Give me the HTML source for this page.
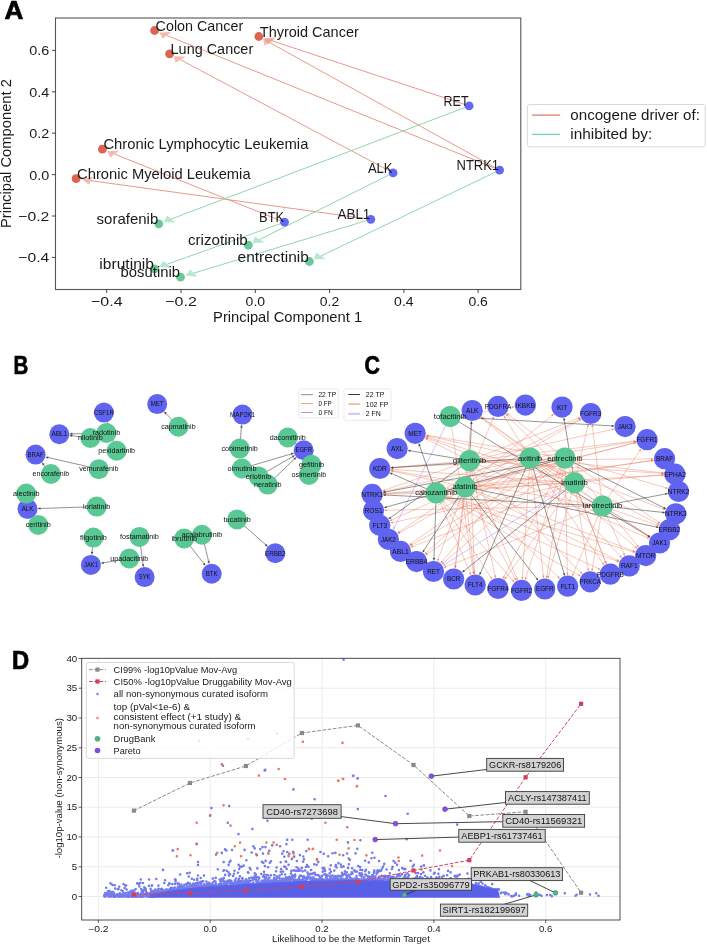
<!DOCTYPE html>
<html><head><meta charset="utf-8"><title>figure</title>
<style>
html,body{margin:0;padding:0;background:#fff;}
body{width:707px;height:945px;overflow:hidden;}
svg{display:block;font-family:"Liberation Sans",sans-serif;will-change:transform;filter:blur(0.35px);}
</style></head><body>
<svg width="707" height="945" viewBox="0 0 707 945">
<rect width="707" height="945" fill="#fff"/>
<text x="4.6" y="18.7" font-size="25.00" font-weight="bold" fill="#000" textLength="18.9" lengthAdjust="spacingAndGlyphs" stroke="#000" stroke-width="0.7">A</text>
<rect x="55.5" y="18.0" width="465.3" height="271.5" fill="none" stroke="#555" stroke-width="1.1"/>
<line x1="106.7" y1="289.5" x2="106.7" y2="293.0" stroke="#333" stroke-width="0.90"/>
<text x="91.0" y="306.0" font-size="13.30" fill="#1a1a1a" textLength="31.5" lengthAdjust="spacingAndGlyphs">−0.4</text>
<line x1="181.0" y1="289.5" x2="181.0" y2="293.0" stroke="#333" stroke-width="0.90"/>
<text x="165.3" y="306.0" font-size="13.30" fill="#1a1a1a" textLength="31.5" lengthAdjust="spacingAndGlyphs">−0.2</text>
<line x1="255.3" y1="289.5" x2="255.3" y2="293.0" stroke="#333" stroke-width="0.90"/>
<text x="245.6" y="306.0" font-size="13.30" fill="#1a1a1a" textLength="19.5" lengthAdjust="spacingAndGlyphs">0.0</text>
<line x1="329.6" y1="289.5" x2="329.6" y2="293.0" stroke="#333" stroke-width="0.90"/>
<text x="319.8" y="306.0" font-size="13.30" fill="#1a1a1a" textLength="19.5" lengthAdjust="spacingAndGlyphs">0.2</text>
<line x1="403.9" y1="289.5" x2="403.9" y2="293.0" stroke="#333" stroke-width="0.90"/>
<text x="394.1" y="306.0" font-size="13.30" fill="#1a1a1a" textLength="19.5" lengthAdjust="spacingAndGlyphs">0.4</text>
<line x1="478.1" y1="289.5" x2="478.1" y2="293.0" stroke="#333" stroke-width="0.90"/>
<text x="468.4" y="306.0" font-size="13.30" fill="#1a1a1a" textLength="19.5" lengthAdjust="spacingAndGlyphs">0.6</text>
<line x1="52.0" y1="50.4" x2="55.5" y2="50.4" stroke="#333" stroke-width="0.90"/>
<text x="29.3" y="55.4" font-size="13.30" fill="#1a1a1a" textLength="20.0" lengthAdjust="spacingAndGlyphs">0.6</text>
<line x1="52.0" y1="91.8" x2="55.5" y2="91.8" stroke="#333" stroke-width="0.90"/>
<text x="29.3" y="96.8" font-size="13.30" fill="#1a1a1a" textLength="20.0" lengthAdjust="spacingAndGlyphs">0.4</text>
<line x1="52.0" y1="133.2" x2="55.5" y2="133.2" stroke="#333" stroke-width="0.90"/>
<text x="29.3" y="138.2" font-size="13.30" fill="#1a1a1a" textLength="20.0" lengthAdjust="spacingAndGlyphs">0.2</text>
<line x1="52.0" y1="174.6" x2="55.5" y2="174.6" stroke="#333" stroke-width="0.90"/>
<text x="29.3" y="179.6" font-size="13.30" fill="#1a1a1a" textLength="20.0" lengthAdjust="spacingAndGlyphs">0.0</text>
<line x1="52.0" y1="216.0" x2="55.5" y2="216.0" stroke="#333" stroke-width="0.90"/>
<text x="18.3" y="221.0" font-size="13.30" fill="#1a1a1a" textLength="31.0" lengthAdjust="spacingAndGlyphs">−0.2</text>
<line x1="52.0" y1="257.4" x2="55.5" y2="257.4" stroke="#333" stroke-width="0.90"/>
<text x="18.3" y="262.4" font-size="13.30" fill="#1a1a1a" textLength="31.0" lengthAdjust="spacingAndGlyphs">−0.4</text>
<text x="213.1" y="321.9" font-size="13.90" fill="#1a1a1a" textLength="149.0" lengthAdjust="spacingAndGlyphs">Principal Component 1</text>
<text transform="translate(11.2,153.6) rotate(-90)" x="-74.5" y="0" font-size="13.9" fill="#1a1a1a" textLength="149" lengthAdjust="spacingAndGlyphs">Principal Component 2</text>
<line x1="499.6" y1="170.1" x2="166.9" y2="35.5" stroke="#e69a8a" stroke-width="1.00"/>
<polygon points="159.4,32.4 171.3,32.1 162.6,38.8" fill="rgba(232,148,132,0.62)"/>
<line x1="469.1" y1="105.9" x2="271.9" y2="40.8" stroke="#e69a8a" stroke-width="1.00"/>
<polygon points="263.9,38.2 275.7,37.3 268.1,44.4" fill="rgba(232,148,132,0.62)"/>
<line x1="499.6" y1="170.1" x2="269.6" y2="42.5" stroke="#e69a8a" stroke-width="1.00"/>
<polygon points="263.0,38.8 274.8,39.6 264.4,45.4" fill="rgba(232,148,132,0.62)"/>
<line x1="393.1" y1="172.9" x2="180.6" y2="59.8" stroke="#e69a8a" stroke-width="1.00"/>
<polygon points="173.9,56.2 185.7,56.8 175.5,62.8" fill="rgba(232,148,132,0.62)"/>
<line x1="284.5" y1="222.2" x2="114.8" y2="154.2" stroke="#e69a8a" stroke-width="1.00"/>
<polygon points="107.2,151.1 119.1,150.8 110.4,157.5" fill="rgba(232,148,132,0.62)"/>
<line x1="370.8" y1="219.3" x2="90.9" y2="180.7" stroke="#e69a8a" stroke-width="1.00"/>
<polygon points="81.9,179.5 92.7,176.7 89.1,184.8" fill="rgba(232,148,132,0.62)"/>
<line x1="469.1" y1="105.9" x2="171.4" y2="219.0" stroke="#8fd6b2" stroke-width="1.00"/>
<polygon points="163.7,221.9 167.2,215.6 175.6,222.4" fill="rgba(140,214,178,0.62)"/>
<line x1="393.1" y1="172.9" x2="259.6" y2="239.5" stroke="#8fd6b2" stroke-width="1.00"/>
<polygon points="252.7,243.0 254.7,236.5 264.6,242.6" fill="rgba(140,214,178,0.62)"/>
<line x1="499.6" y1="170.1" x2="320.9" y2="256.0" stroke="#8fd6b2" stroke-width="1.00"/>
<polygon points="313.9,259.3 316.1,252.8 325.8,259.1" fill="rgba(140,214,178,0.62)"/>
<line x1="370.8" y1="219.3" x2="193.9" y2="273.1" stroke="#8fd6b2" stroke-width="1.00"/>
<polygon points="185.7,275.6 190.3,269.5 197.4,276.8" fill="rgba(140,214,178,0.62)"/>
<line x1="284.5" y1="222.2" x2="167.3" y2="264.2" stroke="#8fd6b2" stroke-width="1.00"/>
<polygon points="159.5,267.0 163.3,260.7 171.3,267.7" fill="rgba(140,214,178,0.62)"/>
<circle cx="154.6" cy="30.5" r="4.4" fill="#dc6450"/>
<circle cx="258.8" cy="36.5" r="4.4" fill="#dc6450"/>
<circle cx="169.6" cy="53.9" r="4.4" fill="#dc6450"/>
<circle cx="102.4" cy="149.2" r="4.4" fill="#dc6450"/>
<circle cx="76.1" cy="178.7" r="4.4" fill="#dc6450"/>
<circle cx="469.1" cy="105.9" r="4.4" fill="#6268f2"/>
<circle cx="393.1" cy="172.9" r="4.4" fill="#6268f2"/>
<circle cx="499.6" cy="170.1" r="4.4" fill="#6268f2"/>
<circle cx="370.8" cy="219.3" r="4.4" fill="#6268f2"/>
<circle cx="284.5" cy="222.2" r="4.4" fill="#6268f2"/>
<circle cx="158.8" cy="223.8" r="4.4" fill="#69ca97"/>
<circle cx="248.3" cy="245.2" r="4.4" fill="#69ca97"/>
<circle cx="154.5" cy="268.8" r="4.4" fill="#69ca97"/>
<circle cx="180.5" cy="277.2" r="4.4" fill="#69ca97"/>
<circle cx="309.4" cy="261.5" r="4.4" fill="#69ca97"/>
<text x="155.6" y="30.5" font-size="13.90" fill="#1a1a1a" textLength="87.6" lengthAdjust="spacingAndGlyphs">Colon Cancer</text>
<text x="259.8" y="36.5" font-size="13.90" fill="#1a1a1a" textLength="99.0" lengthAdjust="spacingAndGlyphs">Thyroid Cancer</text>
<text x="170.6" y="53.9" font-size="13.90" fill="#1a1a1a" textLength="82.6" lengthAdjust="spacingAndGlyphs">Lung Cancer</text>
<text x="103.4" y="149.2" font-size="13.90" fill="#1a1a1a" textLength="205.0" lengthAdjust="spacingAndGlyphs">Chronic Lymphocytic Leukemia</text>
<text x="77.1" y="178.7" font-size="13.90" fill="#1a1a1a" textLength="173.5" lengthAdjust="spacingAndGlyphs">Chronic Myeloid Leukemia</text>
<text x="443.6" y="105.9" font-size="13.90" fill="#1a1a1a" textLength="25.0" lengthAdjust="spacingAndGlyphs">RET</text>
<text x="367.9" y="172.9" font-size="13.90" fill="#1a1a1a" textLength="24.7" lengthAdjust="spacingAndGlyphs">ALK</text>
<text x="456.5" y="170.1" font-size="13.90" fill="#1a1a1a" textLength="42.6" lengthAdjust="spacingAndGlyphs">NTRK1</text>
<text x="337.5" y="219.3" font-size="13.90" fill="#1a1a1a" textLength="32.8" lengthAdjust="spacingAndGlyphs">ABL1</text>
<text x="259.1" y="222.2" font-size="13.90" fill="#1a1a1a" textLength="24.9" lengthAdjust="spacingAndGlyphs">BTK</text>
<text x="96.6" y="223.8" font-size="13.90" fill="#1a1a1a" textLength="61.7" lengthAdjust="spacingAndGlyphs">sorafenib</text>
<text x="187.9" y="245.2" font-size="13.90" fill="#1a1a1a" textLength="59.9" lengthAdjust="spacingAndGlyphs">crizotinib</text>
<text x="99.3" y="268.8" font-size="13.90" fill="#1a1a1a" textLength="54.7" lengthAdjust="spacingAndGlyphs">ibrutinib</text>
<text x="120.6" y="277.2" font-size="13.90" fill="#1a1a1a" textLength="59.4" lengthAdjust="spacingAndGlyphs">bosutinib</text>
<text x="237.6" y="261.5" font-size="13.90" fill="#1a1a1a" textLength="71.3" lengthAdjust="spacingAndGlyphs">entrectinib</text>
<rect x="527.4" y="104.5" width="177.8" height="42.4" rx="2.5" fill="#fff" stroke="#d8d8d8" stroke-width="1"/>
<line x1="531.9" y1="115.1" x2="560.2" y2="115.1" stroke="#e08a72" stroke-width="1.40"/>
<line x1="531.9" y1="134.4" x2="560.2" y2="134.4" stroke="#7fd3a8" stroke-width="1.40"/>
<text x="570.3" y="119.6" font-size="13.90" fill="#1a1a1a" textLength="129.6" lengthAdjust="spacingAndGlyphs">oncogene driver of:</text>
<text x="570.3" y="138.9" font-size="13.90" fill="#1a1a1a" textLength="82.0" lengthAdjust="spacingAndGlyphs">inhibited by:</text>
<text x="13.5" y="373.7" font-size="25.00" font-weight="bold" fill="#000" textLength="14.8" lengthAdjust="spacingAndGlyphs" stroke="#000" stroke-width="0.7">B</text>
<line x1="106.4" y1="432.9" x2="71.8" y2="433.9" stroke="#4a4a4a" stroke-width="0.60"/>
<polygon points="69.3,433.9 72.3,432.6 72.3,435.0" fill="#4a4a4a"/>
<line x1="90.4" y1="438.0" x2="71.7" y2="435.7" stroke="#4a4a4a" stroke-width="0.60"/>
<polygon points="69.2,435.4 72.3,434.6 72.1,437.0" fill="#4a4a4a"/>
<line x1="116.6" y1="450.7" x2="107.9" y2="424.5" stroke="#4a4a4a" stroke-width="0.60"/>
<polygon points="107.1,422.1 109.1,424.6 106.9,425.3" fill="#4a4a4a"/>
<line x1="98.8" y1="469.2" x2="47.8" y2="457.4" stroke="#4a4a4a" stroke-width="0.60"/>
<polygon points="45.3,456.9 48.5,456.4 48.0,458.7" fill="#4a4a4a"/>
<line x1="50.9" y1="474.0" x2="43.3" y2="464.4" stroke="#4a4a4a" stroke-width="0.60"/>
<polygon points="41.8,462.5 44.6,464.1 42.7,465.6" fill="#4a4a4a"/>
<line x1="178.4" y1="426.7" x2="165.8" y2="413.2" stroke="#4a4a4a" stroke-width="0.60"/>
<polygon points="164.0,411.4 167.0,412.8 165.2,414.4" fill="#4a4a4a"/>
<line x1="239.6" y1="448.6" x2="241.4" y2="427.1" stroke="#4a4a4a" stroke-width="0.60"/>
<polygon points="241.7,424.6 242.6,427.7 240.2,427.5" fill="#4a4a4a"/>
<line x1="242.0" y1="468.5" x2="291.7" y2="453.8" stroke="#4a4a4a" stroke-width="0.60"/>
<polygon points="294.1,453.0 291.6,455.0 290.9,452.7" fill="#4a4a4a"/>
<line x1="258.5" y1="476.4" x2="292.9" y2="456.5" stroke="#4a4a4a" stroke-width="0.60"/>
<polygon points="295.0,455.2 293.1,457.8 291.9,455.7" fill="#4a4a4a"/>
<line x1="267.7" y1="484.6" x2="294.7" y2="458.8" stroke="#4a4a4a" stroke-width="0.60"/>
<polygon points="296.5,457.1 295.1,460.0 293.5,458.3" fill="#4a4a4a"/>
<line x1="287.8" y1="437.5" x2="293.9" y2="442.4" stroke="#4a4a4a" stroke-width="0.60"/>
<polygon points="295.9,444.0 292.8,443.0 294.3,441.1" fill="#4a4a4a"/>
<line x1="311.5" y1="464.7" x2="309.6" y2="461.2" stroke="#4a4a4a" stroke-width="0.60"/>
<polygon points="308.4,459.0 310.9,461.1 308.8,462.2" fill="#4a4a4a"/>
<line x1="308.9" y1="474.9" x2="306.3" y2="462.4" stroke="#4a4a4a" stroke-width="0.60"/>
<polygon points="305.8,460.0 307.6,462.7 305.2,463.2" fill="#4a4a4a"/>
<line x1="26.2" y1="493.6" x2="26.4" y2="496.4" stroke="#4a4a4a" stroke-width="0.60"/>
<polygon points="26.7,498.9 25.2,496.0 27.6,495.8" fill="#4a4a4a"/>
<line x1="38.2" y1="524.9" x2="34.4" y2="519.3" stroke="#4a4a4a" stroke-width="0.60"/>
<polygon points="33.1,517.2 35.7,519.0 33.7,520.4" fill="#4a4a4a"/>
<line x1="96.7" y1="506.6" x2="40.0" y2="508.5" stroke="#4a4a4a" stroke-width="0.60"/>
<polygon points="37.5,508.6 40.5,507.3 40.5,509.7" fill="#4a4a4a"/>
<line x1="93.4" y1="537.6" x2="92.0" y2="552.5" stroke="#4a4a4a" stroke-width="0.60"/>
<polygon points="91.8,554.9 90.9,551.8 93.3,552.1" fill="#4a4a4a"/>
<line x1="129.3" y1="558.5" x2="103.2" y2="562.8" stroke="#4a4a4a" stroke-width="0.60"/>
<polygon points="100.8,563.3 103.5,561.6 103.9,563.9" fill="#4a4a4a"/>
<line x1="139.5" y1="536.9" x2="143.0" y2="564.7" stroke="#4a4a4a" stroke-width="0.60"/>
<polygon points="143.3,567.2 141.8,564.4 144.2,564.1" fill="#4a4a4a"/>
<line x1="184.2" y1="538.5" x2="204.0" y2="563.8" stroke="#4a4a4a" stroke-width="0.60"/>
<polygon points="205.5,565.8 202.8,564.2 204.6,562.7" fill="#4a4a4a"/>
<line x1="202.0" y1="534.7" x2="208.7" y2="561.6" stroke="#4a4a4a" stroke-width="0.60"/>
<polygon points="209.3,564.0 207.4,561.4 209.7,560.8" fill="#4a4a4a"/>
<line x1="237.1" y1="519.4" x2="266.0" y2="545.0" stroke="#4a4a4a" stroke-width="0.60"/>
<polygon points="267.8,546.7 264.8,545.6 266.4,543.8" fill="#4a4a4a"/>
<circle cx="103.9" cy="412.6" r="10.0" fill="#6063f0"/>
<circle cx="157.2" cy="404.1" r="10.0" fill="#6063f0"/>
<circle cx="59.3" cy="434.2" r="10.0" fill="#6063f0"/>
<circle cx="35.6" cy="454.6" r="10.0" fill="#6063f0"/>
<circle cx="27.5" cy="508.9" r="10.0" fill="#6063f0"/>
<circle cx="90.9" cy="564.9" r="10.0" fill="#6063f0"/>
<circle cx="144.6" cy="577.1" r="10.0" fill="#6063f0"/>
<circle cx="242.5" cy="414.6" r="10.0" fill="#6063f0"/>
<circle cx="303.7" cy="450.2" r="10.0" fill="#6063f0"/>
<circle cx="211.7" cy="573.7" r="10.0" fill="#6063f0"/>
<circle cx="275.3" cy="553.3" r="10.0" fill="#6063f0"/>
<circle cx="178.4" cy="426.7" r="10.0" fill="#5ac894"/>
<circle cx="106.4" cy="432.9" r="10.0" fill="#5ac894"/>
<circle cx="90.4" cy="438.0" r="10.0" fill="#5ac894"/>
<circle cx="116.6" cy="450.7" r="10.0" fill="#5ac894"/>
<circle cx="98.8" cy="469.2" r="10.0" fill="#5ac894"/>
<circle cx="50.9" cy="474.0" r="10.0" fill="#5ac894"/>
<circle cx="26.2" cy="493.6" r="10.0" fill="#5ac894"/>
<circle cx="38.2" cy="524.9" r="10.0" fill="#5ac894"/>
<circle cx="96.7" cy="506.6" r="10.0" fill="#5ac894"/>
<circle cx="93.4" cy="537.6" r="10.0" fill="#5ac894"/>
<circle cx="139.5" cy="536.9" r="10.0" fill="#5ac894"/>
<circle cx="129.3" cy="558.5" r="10.0" fill="#5ac894"/>
<circle cx="239.6" cy="448.6" r="10.0" fill="#5ac894"/>
<circle cx="287.8" cy="437.5" r="10.0" fill="#5ac894"/>
<circle cx="242.0" cy="468.5" r="10.0" fill="#5ac894"/>
<circle cx="258.5" cy="476.4" r="10.0" fill="#5ac894"/>
<circle cx="267.7" cy="484.6" r="10.0" fill="#5ac894"/>
<circle cx="311.5" cy="464.7" r="10.0" fill="#5ac894"/>
<circle cx="308.9" cy="474.9" r="10.0" fill="#5ac894"/>
<circle cx="237.1" cy="519.4" r="10.0" fill="#5ac894"/>
<circle cx="184.2" cy="538.5" r="10.0" fill="#5ac894"/>
<circle cx="202.0" cy="534.7" r="10.0" fill="#5ac894"/>
<text x="93.9" y="414.8" font-size="6.70" fill="#111" textLength="19.9" lengthAdjust="spacingAndGlyphs">CSF1R</text>
<text x="150.7" y="406.3" font-size="6.70" fill="#111" textLength="12.9" lengthAdjust="spacingAndGlyphs">MET</text>
<text x="51.4" y="436.4" font-size="6.70" fill="#111" textLength="15.8" lengthAdjust="spacingAndGlyphs">ABL1</text>
<text x="27.6" y="456.8" font-size="6.70" fill="#111" textLength="16.0" lengthAdjust="spacingAndGlyphs">BRAF</text>
<text x="21.7" y="511.1" font-size="6.70" fill="#111" textLength="11.7" lengthAdjust="spacingAndGlyphs">ALK</text>
<text x="84.0" y="567.1" font-size="6.70" fill="#111" textLength="13.9" lengthAdjust="spacingAndGlyphs">JAK1</text>
<text x="138.8" y="579.3" font-size="6.70" fill="#111" textLength="11.7" lengthAdjust="spacingAndGlyphs">SYK</text>
<text x="230.0" y="416.8" font-size="6.70" fill="#111" textLength="25.1" lengthAdjust="spacingAndGlyphs">MAP2K1</text>
<text x="295.5" y="452.4" font-size="6.70" fill="#111" textLength="16.5" lengthAdjust="spacingAndGlyphs">EGFR</text>
<text x="205.7" y="575.9" font-size="6.70" fill="#111" textLength="12.0" lengthAdjust="spacingAndGlyphs">BTK</text>
<text x="265.0" y="555.5" font-size="6.70" fill="#111" textLength="20.5" lengthAdjust="spacingAndGlyphs">ERBB2</text>
<text x="161.2" y="428.9" font-size="6.70" fill="#111" textLength="34.4" lengthAdjust="spacingAndGlyphs">capmatinib</text>
<text x="92.6" y="435.1" font-size="6.70" fill="#111" textLength="27.6" lengthAdjust="spacingAndGlyphs">radotinib</text>
<text x="78.0" y="440.2" font-size="6.70" fill="#111" textLength="24.7" lengthAdjust="spacingAndGlyphs">nilotinib</text>
<text x="98.2" y="452.9" font-size="6.70" fill="#111" textLength="36.8" lengthAdjust="spacingAndGlyphs">pexidartinib</text>
<text x="79.3" y="471.4" font-size="6.70" fill="#111" textLength="39.1" lengthAdjust="spacingAndGlyphs">vemurafenib</text>
<text x="32.6" y="476.2" font-size="6.70" fill="#111" textLength="36.6" lengthAdjust="spacingAndGlyphs">encorafenib</text>
<text x="13.1" y="495.8" font-size="6.70" fill="#111" textLength="26.3" lengthAdjust="spacingAndGlyphs">alectinib</text>
<text x="25.7" y="527.1" font-size="6.70" fill="#111" textLength="25.0" lengthAdjust="spacingAndGlyphs">ceritinib</text>
<text x="83.1" y="508.8" font-size="6.70" fill="#111" textLength="27.1" lengthAdjust="spacingAndGlyphs">lorlatinib</text>
<text x="80.0" y="539.8" font-size="6.70" fill="#111" textLength="26.9" lengthAdjust="spacingAndGlyphs">filgotinib</text>
<text x="120.1" y="539.1" font-size="6.70" fill="#111" textLength="38.7" lengthAdjust="spacingAndGlyphs">fostamatinib</text>
<text x="110.3" y="560.7" font-size="6.70" fill="#111" textLength="38.0" lengthAdjust="spacingAndGlyphs">upadacitinib</text>
<text x="221.5" y="450.8" font-size="6.70" fill="#111" textLength="36.2" lengthAdjust="spacingAndGlyphs">cobimetinib</text>
<text x="269.7" y="439.7" font-size="6.70" fill="#111" textLength="36.1" lengthAdjust="spacingAndGlyphs">dacomitinib</text>
<text x="227.5" y="470.7" font-size="6.70" fill="#111" textLength="29.0" lengthAdjust="spacingAndGlyphs">olmutinib</text>
<text x="245.8" y="478.6" font-size="6.70" fill="#111" textLength="25.4" lengthAdjust="spacingAndGlyphs">erlotinib</text>
<text x="253.9" y="486.8" font-size="6.70" fill="#111" textLength="27.6" lengthAdjust="spacingAndGlyphs">neratinib</text>
<text x="298.9" y="466.9" font-size="6.70" fill="#111" textLength="25.2" lengthAdjust="spacingAndGlyphs">gefitinib</text>
<text x="291.6" y="477.1" font-size="6.70" fill="#111" textLength="34.6" lengthAdjust="spacingAndGlyphs">osimertinib</text>
<text x="223.6" y="521.6" font-size="6.70" fill="#111" textLength="27.1" lengthAdjust="spacingAndGlyphs">tucatinib</text>
<text x="171.4" y="540.7" font-size="6.70" fill="#111" textLength="25.7" lengthAdjust="spacingAndGlyphs">ibrutinib</text>
<text x="181.8" y="536.9" font-size="6.70" fill="#111" textLength="40.4" lengthAdjust="spacingAndGlyphs">acalabrutinib</text>
<rect x="298.8" y="389.1" width="39.4" height="28.8" rx="1.5" fill="#fff" fill-opacity="0.85" stroke="#e2e2e2" stroke-width="0.7"/>
<line x1="301.1" y1="394.7" x2="312.8" y2="394.7" stroke="#6a6a6a" stroke-width="0.80"/>
<text x="318.4" y="397.0" font-size="6.55" fill="#111" textLength="17.7" lengthAdjust="spacingAndGlyphs">22 TP</text>
<line x1="301.1" y1="403.6" x2="312.8" y2="403.6" stroke="#e0826a" stroke-width="0.80"/>
<text x="318.4" y="405.9" font-size="6.55" fill="#111" textLength="13.4" lengthAdjust="spacingAndGlyphs">0 FP</text>
<line x1="301.1" y1="412.5" x2="312.8" y2="412.5" stroke="#a070e0" stroke-width="0.80"/>
<text x="318.4" y="414.8" font-size="6.55" fill="#111" textLength="14.3" lengthAdjust="spacingAndGlyphs">0 FN</text>
<text x="364.6" y="373.9" font-size="25.00" font-weight="bold" fill="#000" textLength="15.4" lengthAdjust="spacingAndGlyphs" stroke="#000" stroke-width="0.7">C</text>
<line x1="530.1" y1="458.1" x2="482.2" y2="418.7" stroke="#e6775a" stroke-width="0.50" stroke-opacity="0.80"/>
<polygon points="480.4,417.2 483.2,418.2 481.9,419.9" fill="#e6775a" fill-opacity="0.80"/>
<line x1="574.6" y1="482.8" x2="482.7" y2="417.9" stroke="#e6775a" stroke-width="0.50" stroke-opacity="0.80"/>
<polygon points="480.9,416.6 483.8,417.3 482.5,419.1" fill="#e6775a" fill-opacity="0.80"/>
<line x1="465.0" y1="486.9" x2="471.0" y2="423.3" stroke="#e6775a" stroke-width="0.50" stroke-opacity="0.80"/>
<polygon points="471.2,421.1 472.0,423.9 469.8,423.7" fill="#e6775a" fill-opacity="0.80"/>
<line x1="602.5" y1="506.0" x2="482.6" y2="418.1" stroke="#e6775a" stroke-width="0.50" stroke-opacity="0.80"/>
<polygon points="480.7,416.8 483.7,417.5 482.4,419.3" fill="#e6775a" fill-opacity="0.80"/>
<line x1="564.9" y1="458.1" x2="508.2" y2="414.3" stroke="#e6775a" stroke-width="0.50" stroke-opacity="0.80"/>
<polygon points="506.4,412.9 509.3,413.7 507.9,415.5" fill="#e6775a" fill-opacity="0.80"/>
<line x1="574.6" y1="482.8" x2="507.1" y2="415.5" stroke="#e6775a" stroke-width="0.50" stroke-opacity="0.80"/>
<polygon points="505.5,413.9 508.3,415.1 506.7,416.6" fill="#e6775a" fill-opacity="0.80"/>
<line x1="530.1" y1="458.1" x2="504.8" y2="417.4" stroke="#e6775a" stroke-width="0.50" stroke-opacity="0.80"/>
<polygon points="503.6,415.4 506.0,417.2 504.1,418.4" fill="#e6775a" fill-opacity="0.80"/>
<line x1="465.0" y1="486.9" x2="493.1" y2="418.3" stroke="#e6775a" stroke-width="0.50" stroke-opacity="0.80"/>
<polygon points="494.0,416.2 493.9,419.2 491.9,418.4" fill="#e6775a" fill-opacity="0.80"/>
<line x1="450.2" y1="416.6" x2="512.6" y2="407.1" stroke="#e6775a" stroke-width="0.50" stroke-opacity="0.80"/>
<polygon points="514.9,406.7 512.3,408.2 512.0,406.0" fill="#e6775a" fill-opacity="0.80"/>
<line x1="465.0" y1="486.9" x2="552.1" y2="415.3" stroke="#e6775a" stroke-width="0.50" stroke-opacity="0.80"/>
<polygon points="553.9,413.8 552.4,416.5 551.0,414.8" fill="#e6775a" fill-opacity="0.80"/>
<line x1="465.0" y1="486.9" x2="579.7" y2="420.0" stroke="#e6775a" stroke-width="0.50" stroke-opacity="0.80"/>
<polygon points="581.6,418.8 579.8,421.2 578.7,419.3" fill="#e6775a" fill-opacity="0.80"/>
<line x1="436.2" y1="493.0" x2="579.3" y2="419.4" stroke="#e6775a" stroke-width="0.50" stroke-opacity="0.80"/>
<polygon points="581.4,418.3 579.4,420.6 578.4,418.6" fill="#e6775a" fill-opacity="0.80"/>
<line x1="469.5" y1="460.7" x2="578.8" y2="418.2" stroke="#e6775a" stroke-width="0.50" stroke-opacity="0.80"/>
<polygon points="580.9,417.3 578.7,419.4 577.9,417.3" fill="#e6775a" fill-opacity="0.80"/>
<line x1="602.5" y1="506.0" x2="592.4" y2="426.3" stroke="#e6775a" stroke-width="0.50" stroke-opacity="0.80"/>
<polygon points="592.1,424.0 593.6,426.7 591.4,426.9" fill="#e6775a" fill-opacity="0.80"/>
<line x1="574.6" y1="482.8" x2="587.9" y2="426.1" stroke="#e6775a" stroke-width="0.50" stroke-opacity="0.80"/>
<polygon points="588.4,423.8 588.8,426.8 586.7,426.3" fill="#e6775a" fill-opacity="0.80"/>
<line x1="469.5" y1="460.7" x2="612.5" y2="429.4" stroke="#e6775a" stroke-width="0.50" stroke-opacity="0.80"/>
<polygon points="614.7,428.9 612.2,430.5 611.8,428.4" fill="#e6775a" fill-opacity="0.80"/>
<line x1="465.0" y1="486.9" x2="634.6" y2="442.9" stroke="#e6775a" stroke-width="0.50" stroke-opacity="0.80"/>
<polygon points="636.8,442.4 634.4,444.1 633.9,442.0" fill="#e6775a" fill-opacity="0.80"/>
<line x1="436.2" y1="493.0" x2="634.6" y2="442.9" stroke="#e6775a" stroke-width="0.50" stroke-opacity="0.80"/>
<polygon points="636.8,442.3 634.4,444.0 633.8,441.9" fill="#e6775a" fill-opacity="0.80"/>
<line x1="469.5" y1="460.7" x2="634.3" y2="441.2" stroke="#e6775a" stroke-width="0.50" stroke-opacity="0.80"/>
<polygon points="636.6,440.9 633.9,442.4 633.7,440.2" fill="#e6775a" fill-opacity="0.80"/>
<line x1="602.5" y1="506.0" x2="639.9" y2="450.4" stroke="#e6775a" stroke-width="0.50" stroke-opacity="0.80"/>
<polygon points="641.2,448.5 640.5,451.4 638.7,450.2" fill="#e6775a" fill-opacity="0.80"/>
<line x1="530.1" y1="458.1" x2="634.4" y2="441.7" stroke="#e6775a" stroke-width="0.50" stroke-opacity="0.80"/>
<polygon points="636.6,441.3 634.0,442.9 633.7,440.7" fill="#e6775a" fill-opacity="0.80"/>
<line x1="436.2" y1="493.0" x2="651.8" y2="460.6" stroke="#e6775a" stroke-width="0.50" stroke-opacity="0.80"/>
<polygon points="654.1,460.3 651.5,461.8 651.2,459.6" fill="#e6775a" fill-opacity="0.80"/>
<line x1="465.0" y1="486.9" x2="651.8" y2="460.5" stroke="#e6775a" stroke-width="0.50" stroke-opacity="0.80"/>
<polygon points="654.1,460.2 651.5,461.7 651.2,459.5" fill="#e6775a" fill-opacity="0.80"/>
<line x1="469.5" y1="460.7" x2="651.7" y2="458.8" stroke="#e6775a" stroke-width="0.50" stroke-opacity="0.80"/>
<polygon points="654.0,458.8 651.2,459.9 651.2,457.7" fill="#e6775a" fill-opacity="0.80"/>
<line x1="469.5" y1="460.7" x2="662.1" y2="473.4" stroke="#e6775a" stroke-width="0.50" stroke-opacity="0.80"/>
<polygon points="664.4,473.5 661.6,474.4 661.7,472.2" fill="#e6775a" fill-opacity="0.80"/>
<line x1="530.1" y1="458.1" x2="662.2" y2="472.8" stroke="#e6775a" stroke-width="0.50" stroke-opacity="0.80"/>
<polygon points="664.5,473.0 661.6,473.8 661.8,471.6" fill="#e6775a" fill-opacity="0.80"/>
<line x1="436.2" y1="493.0" x2="662.1" y2="475.2" stroke="#e6775a" stroke-width="0.50" stroke-opacity="0.80"/>
<polygon points="664.4,475.0 661.7,476.3 661.6,474.2" fill="#e6775a" fill-opacity="0.80"/>
<line x1="465.0" y1="486.9" x2="662.1" y2="475.0" stroke="#e6775a" stroke-width="0.50" stroke-opacity="0.80"/>
<polygon points="664.4,474.8 661.7,476.1 661.6,473.9" fill="#e6775a" fill-opacity="0.80"/>
<line x1="564.9" y1="458.1" x2="666.2" y2="487.9" stroke="#e6775a" stroke-width="0.50" stroke-opacity="0.80"/>
<polygon points="668.4,488.5 665.4,488.8 666.1,486.7" fill="#e6775a" fill-opacity="0.80"/>
<line x1="530.1" y1="458.1" x2="663.8" y2="509.2" stroke="#e6775a" stroke-width="0.50" stroke-opacity="0.80"/>
<polygon points="665.9,510.0 662.9,510.0 663.7,508.0" fill="#e6775a" fill-opacity="0.80"/>
<line x1="564.9" y1="458.1" x2="658.8" y2="522.4" stroke="#e6775a" stroke-width="0.50" stroke-opacity="0.80"/>
<polygon points="660.7,523.7 657.7,523.0 659.0,521.2" fill="#e6775a" fill-opacity="0.80"/>
<line x1="602.5" y1="506.0" x2="657.2" y2="525.4" stroke="#e6775a" stroke-width="0.50" stroke-opacity="0.80"/>
<polygon points="659.4,526.2 656.4,526.3 657.1,524.2" fill="#e6775a" fill-opacity="0.80"/>
<line x1="530.1" y1="458.1" x2="657.9" y2="523.8" stroke="#e6775a" stroke-width="0.50" stroke-opacity="0.80"/>
<polygon points="660.0,524.9 657.0,524.6 658.0,522.6" fill="#e6775a" fill-opacity="0.80"/>
<line x1="602.5" y1="506.0" x2="648.8" y2="536.0" stroke="#e6775a" stroke-width="0.50" stroke-opacity="0.80"/>
<polygon points="650.7,537.2 647.8,536.6 649.0,534.8" fill="#e6775a" fill-opacity="0.80"/>
<line x1="530.1" y1="458.1" x2="648.8" y2="535.9" stroke="#e6775a" stroke-width="0.50" stroke-opacity="0.80"/>
<polygon points="650.7,537.2 647.8,536.6 649.0,534.7" fill="#e6775a" fill-opacity="0.80"/>
<line x1="469.5" y1="460.7" x2="647.8" y2="537.9" stroke="#e6775a" stroke-width="0.50" stroke-opacity="0.80"/>
<polygon points="649.9,538.8 646.9,538.7 647.7,536.7" fill="#e6775a" fill-opacity="0.80"/>
<line x1="436.2" y1="493.0" x2="633.3" y2="551.9" stroke="#e6775a" stroke-width="0.50" stroke-opacity="0.80"/>
<polygon points="635.5,552.6 632.5,552.8 633.2,550.7" fill="#e6775a" fill-opacity="0.80"/>
<line x1="465.0" y1="486.9" x2="633.6" y2="551.0" stroke="#e6775a" stroke-width="0.50" stroke-opacity="0.80"/>
<polygon points="635.8,551.8 632.8,551.9 633.6,549.8" fill="#e6775a" fill-opacity="0.80"/>
<line x1="530.1" y1="458.1" x2="635.8" y2="547.3" stroke="#e6775a" stroke-width="0.50" stroke-opacity="0.80"/>
<polygon points="637.6,548.8 634.7,547.8 636.2,546.1" fill="#e6775a" fill-opacity="0.80"/>
<line x1="564.9" y1="458.1" x2="637.5" y2="545.7" stroke="#e6775a" stroke-width="0.50" stroke-opacity="0.80"/>
<polygon points="638.9,547.4 636.3,546.0 638.0,544.6" fill="#e6775a" fill-opacity="0.80"/>
<line x1="602.5" y1="506.0" x2="624.0" y2="554.1" stroke="#e6775a" stroke-width="0.50" stroke-opacity="0.80"/>
<polygon points="625.0,556.2 622.8,554.1 624.8,553.2" fill="#e6775a" fill-opacity="0.80"/>
<line x1="436.2" y1="493.0" x2="617.2" y2="561.3" stroke="#e6775a" stroke-width="0.50" stroke-opacity="0.80"/>
<polygon points="619.4,562.2 616.4,562.2 617.2,560.1" fill="#e6775a" fill-opacity="0.80"/>
<line x1="465.0" y1="486.9" x2="617.7" y2="560.3" stroke="#e6775a" stroke-width="0.50" stroke-opacity="0.80"/>
<polygon points="619.7,561.3 616.7,561.1 617.7,559.1" fill="#e6775a" fill-opacity="0.80"/>
<line x1="530.1" y1="458.1" x2="620.6" y2="556.4" stroke="#e6775a" stroke-width="0.50" stroke-opacity="0.80"/>
<polygon points="622.1,558.1 619.4,556.8 621.0,555.3" fill="#e6775a" fill-opacity="0.80"/>
<line x1="436.2" y1="493.0" x2="598.6" y2="568.7" stroke="#e6775a" stroke-width="0.50" stroke-opacity="0.80"/>
<polygon points="600.7,569.7 597.7,569.5 598.6,567.5" fill="#e6775a" fill-opacity="0.80"/>
<line x1="530.1" y1="458.1" x2="603.0" y2="563.6" stroke="#e6775a" stroke-width="0.50" stroke-opacity="0.80"/>
<polygon points="604.3,565.5 601.8,563.8 603.6,562.5" fill="#e6775a" fill-opacity="0.80"/>
<line x1="564.9" y1="458.1" x2="605.6" y2="562.2" stroke="#e6775a" stroke-width="0.50" stroke-opacity="0.80"/>
<polygon points="606.4,564.3 604.4,562.1 606.4,561.3" fill="#e6775a" fill-opacity="0.80"/>
<line x1="574.6" y1="482.8" x2="605.6" y2="562.2" stroke="#e6775a" stroke-width="0.50" stroke-opacity="0.80"/>
<polygon points="606.4,564.3 604.4,562.1 606.4,561.3" fill="#e6775a" fill-opacity="0.80"/>
<line x1="469.5" y1="460.7" x2="581.1" y2="572.7" stroke="#e6775a" stroke-width="0.50" stroke-opacity="0.80"/>
<polygon points="582.7,574.3 580.0,573.1 581.5,571.5" fill="#e6775a" fill-opacity="0.80"/>
<line x1="574.6" y1="482.8" x2="588.2" y2="569.1" stroke="#e6775a" stroke-width="0.50" stroke-opacity="0.80"/>
<polygon points="588.6,571.3 587.0,568.7 589.2,568.4" fill="#e6775a" fill-opacity="0.80"/>
<line x1="602.5" y1="506.0" x2="592.3" y2="569.1" stroke="#e6775a" stroke-width="0.50" stroke-opacity="0.80"/>
<polygon points="591.9,571.3 591.3,568.4 593.4,568.7" fill="#e6775a" fill-opacity="0.80"/>
<line x1="436.2" y1="493.0" x2="579.0" y2="575.4" stroke="#e6775a" stroke-width="0.50" stroke-opacity="0.80"/>
<polygon points="581.0,576.5 578.0,576.1 579.1,574.2" fill="#e6775a" fill-opacity="0.80"/>
<line x1="564.9" y1="458.1" x2="567.4" y2="573.3" stroke="#e6775a" stroke-width="0.50" stroke-opacity="0.80"/>
<polygon points="567.5,575.6 566.3,572.8 568.5,572.8" fill="#e6775a" fill-opacity="0.80"/>
<line x1="602.5" y1="506.0" x2="572.8" y2="574.4" stroke="#e6775a" stroke-width="0.50" stroke-opacity="0.80"/>
<polygon points="571.9,576.5 572.0,573.5 574.0,574.3" fill="#e6775a" fill-opacity="0.80"/>
<line x1="465.0" y1="486.9" x2="558.4" y2="577.2" stroke="#e6775a" stroke-width="0.50" stroke-opacity="0.80"/>
<polygon points="560.1,578.8 557.3,577.7 558.8,576.1" fill="#e6775a" fill-opacity="0.80"/>
<line x1="530.1" y1="458.1" x2="543.4" y2="576.2" stroke="#e6775a" stroke-width="0.50" stroke-opacity="0.80"/>
<polygon points="543.6,578.5 542.2,575.8 544.4,575.6" fill="#e6775a" fill-opacity="0.80"/>
<line x1="564.9" y1="458.1" x2="546.8" y2="576.2" stroke="#e6775a" stroke-width="0.50" stroke-opacity="0.80"/>
<polygon points="546.4,578.5 545.7,575.6 547.9,575.9" fill="#e6775a" fill-opacity="0.80"/>
<line x1="574.6" y1="482.8" x2="548.3" y2="576.6" stroke="#e6775a" stroke-width="0.50" stroke-opacity="0.80"/>
<polygon points="547.7,578.8 547.4,575.8 549.5,576.4" fill="#e6775a" fill-opacity="0.80"/>
<line x1="436.2" y1="493.0" x2="513.1" y2="580.7" stroke="#e6775a" stroke-width="0.50" stroke-opacity="0.80"/>
<polygon points="514.6,582.4 511.9,581.0 513.6,579.6" fill="#e6775a" fill-opacity="0.80"/>
<line x1="469.5" y1="460.7" x2="516.8" y2="578.4" stroke="#e6775a" stroke-width="0.50" stroke-opacity="0.80"/>
<polygon points="517.6,580.6 515.6,578.4 517.6,577.6" fill="#e6775a" fill-opacity="0.80"/>
<line x1="530.1" y1="458.1" x2="522.4" y2="577.5" stroke="#e6775a" stroke-width="0.50" stroke-opacity="0.80"/>
<polygon points="522.3,579.8 521.4,577.0 523.6,577.1" fill="#e6775a" fill-opacity="0.80"/>
<line x1="564.9" y1="458.1" x2="525.6" y2="578.1" stroke="#e6775a" stroke-width="0.50" stroke-opacity="0.80"/>
<polygon points="524.9,580.3 524.7,577.3 526.8,578.0" fill="#e6775a" fill-opacity="0.80"/>
<line x1="465.0" y1="486.9" x2="515.4" y2="579.1" stroke="#e6775a" stroke-width="0.50" stroke-opacity="0.80"/>
<polygon points="516.5,581.1 514.2,579.2 516.1,578.1" fill="#e6775a" fill-opacity="0.80"/>
<line x1="436.2" y1="493.0" x2="491.0" y2="577.7" stroke="#e6775a" stroke-width="0.50" stroke-opacity="0.80"/>
<polygon points="492.2,579.6 489.8,577.8 491.6,576.7" fill="#e6775a" fill-opacity="0.80"/>
<line x1="469.5" y1="460.7" x2="495.2" y2="575.9" stroke="#e6775a" stroke-width="0.50" stroke-opacity="0.80"/>
<polygon points="495.7,578.2 494.0,575.7 496.2,575.2" fill="#e6775a" fill-opacity="0.80"/>
<line x1="564.9" y1="458.1" x2="503.9" y2="577.0" stroke="#e6775a" stroke-width="0.50" stroke-opacity="0.80"/>
<polygon points="502.8,579.1 503.1,576.1 505.1,577.1" fill="#e6775a" fill-opacity="0.80"/>
<line x1="574.6" y1="482.8" x2="505.6" y2="578.1" stroke="#e6775a" stroke-width="0.50" stroke-opacity="0.80"/>
<polygon points="504.2,579.9 505.0,577.0 506.8,578.3" fill="#e6775a" fill-opacity="0.80"/>
<line x1="465.0" y1="486.9" x2="473.9" y2="572.2" stroke="#e6775a" stroke-width="0.50" stroke-opacity="0.80"/>
<polygon points="474.1,574.5 472.7,571.8 474.9,571.6" fill="#e6775a" fill-opacity="0.80"/>
<line x1="469.5" y1="460.7" x2="474.6" y2="572.1" stroke="#e6775a" stroke-width="0.50" stroke-opacity="0.80"/>
<polygon points="474.7,574.4 473.5,571.7 475.7,571.6" fill="#e6775a" fill-opacity="0.80"/>
<line x1="436.2" y1="493.0" x2="470.2" y2="573.1" stroke="#e6775a" stroke-width="0.50" stroke-opacity="0.80"/>
<polygon points="471.1,575.2 469.0,573.1 471.0,572.2" fill="#e6775a" fill-opacity="0.80"/>
<line x1="450.2" y1="416.6" x2="473.3" y2="572.2" stroke="#e6775a" stroke-width="0.50" stroke-opacity="0.80"/>
<polygon points="473.6,574.5 472.1,571.9 474.3,571.6" fill="#e6775a" fill-opacity="0.80"/>
<line x1="465.0" y1="486.9" x2="455.3" y2="566.2" stroke="#e6775a" stroke-width="0.50" stroke-opacity="0.80"/>
<polygon points="455.0,568.5 454.2,565.6 456.4,565.8" fill="#e6775a" fill-opacity="0.80"/>
<line x1="469.5" y1="460.7" x2="455.4" y2="566.2" stroke="#e6775a" stroke-width="0.50" stroke-opacity="0.80"/>
<polygon points="455.1,568.5 454.4,565.6 456.6,565.9" fill="#e6775a" fill-opacity="0.80"/>
<line x1="530.1" y1="458.1" x2="441.9" y2="561.7" stroke="#e6775a" stroke-width="0.50" stroke-opacity="0.80"/>
<polygon points="440.4,563.4 441.4,560.6 443.0,562.0" fill="#e6775a" fill-opacity="0.80"/>
<line x1="465.0" y1="486.9" x2="438.0" y2="559.4" stroke="#e6775a" stroke-width="0.50" stroke-opacity="0.80"/>
<polygon points="437.2,561.6 437.1,558.6 439.2,559.3" fill="#e6775a" fill-opacity="0.80"/>
<line x1="564.9" y1="458.1" x2="443.3" y2="563.1" stroke="#e6775a" stroke-width="0.50" stroke-opacity="0.80"/>
<polygon points="441.5,564.6 442.9,561.9 444.4,563.6" fill="#e6775a" fill-opacity="0.80"/>
<line x1="602.5" y1="506.0" x2="445.5" y2="566.8" stroke="#e6775a" stroke-width="0.50" stroke-opacity="0.80"/>
<polygon points="443.4,567.7 445.6,565.6 446.4,567.7" fill="#e6775a" fill-opacity="0.80"/>
<line x1="530.1" y1="458.1" x2="426.1" y2="552.9" stroke="#e6775a" stroke-width="0.50" stroke-opacity="0.80"/>
<polygon points="424.4,554.5 425.8,551.8 427.2,553.4" fill="#e6775a" fill-opacity="0.80"/>
<line x1="564.9" y1="458.1" x2="427.2" y2="554.2" stroke="#e6775a" stroke-width="0.50" stroke-opacity="0.80"/>
<polygon points="425.3,555.5 427.0,553.0 428.2,554.8" fill="#e6775a" fill-opacity="0.80"/>
<line x1="574.6" y1="482.8" x2="412.5" y2="546.7" stroke="#e6775a" stroke-width="0.50" stroke-opacity="0.80"/>
<polygon points="410.4,547.5 412.6,545.5 413.4,547.5" fill="#e6775a" fill-opacity="0.80"/>
<line x1="564.9" y1="458.1" x2="411.7" y2="545.0" stroke="#e6775a" stroke-width="0.50" stroke-opacity="0.80"/>
<polygon points="409.7,546.2 411.6,543.8 412.7,545.7" fill="#e6775a" fill-opacity="0.80"/>
<line x1="530.1" y1="458.1" x2="411.0" y2="543.9" stroke="#e6775a" stroke-width="0.50" stroke-opacity="0.80"/>
<polygon points="409.1,545.2 410.7,542.7 412.0,544.5" fill="#e6775a" fill-opacity="0.80"/>
<line x1="465.0" y1="486.9" x2="399.0" y2="532.0" stroke="#e6775a" stroke-width="0.50" stroke-opacity="0.80"/>
<polygon points="397.1,533.3 398.8,530.8 400.1,532.6" fill="#e6775a" fill-opacity="0.80"/>
<line x1="530.1" y1="458.1" x2="399.6" y2="532.9" stroke="#e6775a" stroke-width="0.50" stroke-opacity="0.80"/>
<polygon points="397.6,534.0 399.5,531.7 400.6,533.6" fill="#e6775a" fill-opacity="0.80"/>
<line x1="530.1" y1="458.1" x2="391.6" y2="520.0" stroke="#e6775a" stroke-width="0.50" stroke-opacity="0.80"/>
<polygon points="389.5,521.0 391.6,518.8 392.5,520.8" fill="#e6775a" fill-opacity="0.80"/>
<line x1="574.6" y1="482.8" x2="392.4" y2="522.6" stroke="#e6775a" stroke-width="0.50" stroke-opacity="0.80"/>
<polygon points="390.2,523.0 392.7,521.4 393.1,523.5" fill="#e6775a" fill-opacity="0.80"/>
<line x1="602.5" y1="506.0" x2="386.5" y2="510.2" stroke="#e6775a" stroke-width="0.50" stroke-opacity="0.80"/>
<polygon points="384.2,510.3 387.0,509.1 387.0,511.3" fill="#e6775a" fill-opacity="0.80"/>
<line x1="469.5" y1="460.7" x2="384.4" y2="490.2" stroke="#e6775a" stroke-width="0.50" stroke-opacity="0.80"/>
<polygon points="382.2,490.9 384.5,489.0 385.2,491.1" fill="#e6775a" fill-opacity="0.80"/>
<line x1="530.1" y1="458.1" x2="384.8" y2="491.5" stroke="#e6775a" stroke-width="0.50" stroke-opacity="0.80"/>
<polygon points="382.5,492.0 385.0,490.3 385.5,492.5" fill="#e6775a" fill-opacity="0.80"/>
<line x1="465.0" y1="486.9" x2="385.1" y2="493.4" stroke="#e6775a" stroke-width="0.50" stroke-opacity="0.80"/>
<polygon points="382.8,493.5 385.5,492.2 385.6,494.4" fill="#e6775a" fill-opacity="0.80"/>
<line x1="574.6" y1="482.8" x2="385.1" y2="493.7" stroke="#e6775a" stroke-width="0.50" stroke-opacity="0.80"/>
<polygon points="382.8,493.8 385.5,492.5 385.6,494.7" fill="#e6775a" fill-opacity="0.80"/>
<line x1="436.2" y1="493.0" x2="385.1" y2="494.1" stroke="#e6775a" stroke-width="0.50" stroke-opacity="0.80"/>
<polygon points="382.8,494.2 385.6,493.0 385.6,495.2" fill="#e6775a" fill-opacity="0.80"/>
<line x1="469.5" y1="460.7" x2="392.7" y2="467.4" stroke="#e6775a" stroke-width="0.50" stroke-opacity="0.80"/>
<polygon points="390.4,467.6 393.1,466.2 393.2,468.4" fill="#e6775a" fill-opacity="0.80"/>
<line x1="564.9" y1="458.1" x2="392.7" y2="467.8" stroke="#e6775a" stroke-width="0.50" stroke-opacity="0.80"/>
<polygon points="390.4,467.9 393.1,466.7 393.2,468.8" fill="#e6775a" fill-opacity="0.80"/>
<line x1="574.6" y1="482.8" x2="392.7" y2="469.4" stroke="#e6775a" stroke-width="0.50" stroke-opacity="0.80"/>
<polygon points="390.4,469.3 393.2,468.4 393.1,470.6" fill="#e6775a" fill-opacity="0.80"/>
<line x1="602.5" y1="506.0" x2="392.5" y2="470.6" stroke="#e6775a" stroke-width="0.50" stroke-opacity="0.80"/>
<polygon points="390.3,470.3 393.2,469.6 392.8,471.8" fill="#e6775a" fill-opacity="0.80"/>
<line x1="465.0" y1="486.9" x2="392.4" y2="471.2" stroke="#e6775a" stroke-width="0.50" stroke-opacity="0.80"/>
<polygon points="390.2,470.7 393.1,470.3 392.7,472.4" fill="#e6775a" fill-opacity="0.80"/>
<line x1="564.9" y1="458.1" x2="427.9" y2="435.4" stroke="#e6775a" stroke-width="0.50" stroke-opacity="0.80"/>
<polygon points="425.7,435.0 428.6,434.4 428.2,436.6" fill="#e6775a" fill-opacity="0.80"/>
<line x1="530.1" y1="458.1" x2="427.8" y2="436.0" stroke="#e6775a" stroke-width="0.50" stroke-opacity="0.80"/>
<polygon points="425.6,435.5 428.5,435.1 428.1,437.2" fill="#e6775a" fill-opacity="0.80"/>
<line x1="574.6" y1="482.8" x2="427.5" y2="437.1" stroke="#e6775a" stroke-width="0.50" stroke-opacity="0.80"/>
<polygon points="425.3,436.4 428.3,436.2 427.7,438.3" fill="#e6775a" fill-opacity="0.80"/>
<line x1="602.5" y1="506.0" x2="427.2" y2="438.0" stroke="#e6775a" stroke-width="0.50" stroke-opacity="0.80"/>
<polygon points="425.1,437.1 428.1,437.1 427.3,439.2" fill="#e6775a" fill-opacity="0.80"/>
<line x1="469.5" y1="460.7" x2="426.7" y2="439.1" stroke="#e6775a" stroke-width="0.50" stroke-opacity="0.80"/>
<polygon points="424.7,438.1 427.7,438.4 426.7,440.3" fill="#e6775a" fill-opacity="0.80"/>
<line x1="450.2" y1="416.6" x2="394.2" y2="527.8" stroke="#b898f4" stroke-width="0.60"/>
<polygon points="393.2,529.8 393.4,526.8 395.4,527.8" fill="#b898f4"/>
<line x1="574.6" y1="482.8" x2="444.4" y2="564.6" stroke="#b898f4" stroke-width="0.60"/>
<polygon points="442.5,565.9 444.3,563.4 445.4,565.3" fill="#b898f4"/>
<line x1="450.2" y1="416.6" x2="612.2" y2="425.9" stroke="#3c3c3c" stroke-width="0.55"/>
<polygon points="614.5,426.0 611.7,426.9 611.8,424.7" fill="#3c3c3c"/>
<line x1="450.2" y1="416.6" x2="648.6" y2="536.3" stroke="#3c3c3c" stroke-width="0.55"/>
<polygon points="650.5,537.5 647.6,537.0 648.7,535.1" fill="#3c3c3c"/>
<line x1="469.5" y1="460.7" x2="471.5" y2="423.4" stroke="#3c3c3c" stroke-width="0.55"/>
<polygon points="471.6,421.1 472.6,423.9 470.4,423.8" fill="#3c3c3c"/>
<line x1="469.5" y1="460.7" x2="409.9" y2="450.7" stroke="#3c3c3c" stroke-width="0.55"/>
<polygon points="407.7,450.3 410.6,449.7 410.2,451.9" fill="#3c3c3c"/>
<line x1="469.5" y1="460.7" x2="390.3" y2="517.8" stroke="#3c3c3c" stroke-width="0.55"/>
<polygon points="388.4,519.1 390.0,516.6 391.3,518.4" fill="#3c3c3c"/>
<line x1="530.1" y1="458.1" x2="392.7" y2="467.6" stroke="#3c3c3c" stroke-width="0.55"/>
<polygon points="390.4,467.8 393.1,466.5 393.2,468.7" fill="#3c3c3c"/>
<line x1="530.1" y1="458.1" x2="564.1" y2="573.8" stroke="#3c3c3c" stroke-width="0.55"/>
<polygon points="564.7,576.0 562.9,573.7 565.0,573.0" fill="#3c3c3c"/>
<line x1="530.1" y1="458.1" x2="480.3" y2="573.2" stroke="#3c3c3c" stroke-width="0.55"/>
<polygon points="479.4,575.3 479.5,572.3 481.5,573.1" fill="#3c3c3c"/>
<line x1="564.9" y1="458.1" x2="384.9" y2="492.0" stroke="#3c3c3c" stroke-width="0.55"/>
<polygon points="382.6,492.4 385.2,490.8 385.6,493.0" fill="#3c3c3c"/>
<line x1="564.9" y1="458.1" x2="664.3" y2="508.0" stroke="#3c3c3c" stroke-width="0.55"/>
<polygon points="666.3,509.0 663.3,508.8 664.3,506.8" fill="#3c3c3c"/>
<line x1="564.9" y1="458.1" x2="386.0" y2="507.1" stroke="#3c3c3c" stroke-width="0.55"/>
<polygon points="383.8,507.7 386.2,505.9 386.8,508.0" fill="#3c3c3c"/>
<line x1="436.2" y1="493.0" x2="391.6" y2="473.6" stroke="#3c3c3c" stroke-width="0.55"/>
<polygon points="389.5,472.7 392.5,472.8 391.7,474.8" fill="#3c3c3c"/>
<line x1="574.6" y1="482.8" x2="564.2" y2="419.8" stroke="#3c3c3c" stroke-width="0.55"/>
<polygon points="563.8,417.6 565.4,420.1 563.2,420.5" fill="#3c3c3c"/>
<line x1="574.6" y1="482.8" x2="463.8" y2="571.0" stroke="#3c3c3c" stroke-width="0.55"/>
<polygon points="462.0,572.4 463.5,569.8 464.9,571.5" fill="#3c3c3c"/>
<line x1="465.0" y1="486.9" x2="536.9" y2="578.8" stroke="#3c3c3c" stroke-width="0.55"/>
<polygon points="538.3,580.6 535.7,579.1 537.4,577.8" fill="#3c3c3c"/>
<line x1="465.0" y1="486.9" x2="656.8" y2="527.1" stroke="#3c3c3c" stroke-width="0.55"/>
<polygon points="659.0,527.5 656.1,528.0 656.5,525.9" fill="#3c3c3c"/>
<line x1="465.0" y1="486.9" x2="423.6" y2="550.8" stroke="#3c3c3c" stroke-width="0.55"/>
<polygon points="422.4,552.7 423.0,549.8 424.8,551.0" fill="#3c3c3c"/>
<line x1="436.2" y1="493.0" x2="419.5" y2="445.5" stroke="#3c3c3c" stroke-width="0.55"/>
<polygon points="418.7,443.3 420.7,445.6 418.6,446.3" fill="#3c3c3c"/>
<line x1="436.2" y1="493.0" x2="433.9" y2="558.6" stroke="#3c3c3c" stroke-width="0.55"/>
<polygon points="433.9,560.9 432.9,558.1 435.1,558.1" fill="#3c3c3c"/>
<line x1="602.5" y1="506.0" x2="665.9" y2="493.9" stroke="#3c3c3c" stroke-width="0.55"/>
<polygon points="668.2,493.5 665.6,495.1 665.2,492.9" fill="#3c3c3c"/>
<line x1="602.5" y1="506.0" x2="385.1" y2="495.0" stroke="#3c3c3c" stroke-width="0.55"/>
<polygon points="382.8,494.9 385.6,494.0 385.5,496.2" fill="#3c3c3c"/>
<line x1="602.5" y1="506.0" x2="663.0" y2="512.4" stroke="#3c3c3c" stroke-width="0.55"/>
<polygon points="665.3,512.7 662.4,513.5 662.6,511.3" fill="#3c3c3c"/>
<circle cx="472.2" cy="410.5" r="10.6" fill="#6063f0"/>
<circle cx="498.0" cy="406.4" r="10.6" fill="#6063f0"/>
<circle cx="525.4" cy="405.1" r="10.6" fill="#6063f0"/>
<circle cx="562.1" cy="407.1" r="10.6" fill="#6063f0"/>
<circle cx="590.8" cy="413.5" r="10.6" fill="#6063f0"/>
<circle cx="625.1" cy="426.6" r="10.6" fill="#6063f0"/>
<circle cx="647.1" cy="439.7" r="10.6" fill="#6063f0"/>
<circle cx="664.6" cy="458.7" r="10.6" fill="#6063f0"/>
<circle cx="675.0" cy="474.2" r="10.6" fill="#6063f0"/>
<circle cx="678.6" cy="491.5" r="10.6" fill="#6063f0"/>
<circle cx="675.8" cy="513.8" r="10.6" fill="#6063f0"/>
<circle cx="669.4" cy="529.7" r="10.6" fill="#6063f0"/>
<circle cx="659.6" cy="543.0" r="10.6" fill="#6063f0"/>
<circle cx="645.7" cy="555.6" r="10.6" fill="#6063f0"/>
<circle cx="629.3" cy="565.9" r="10.6" fill="#6063f0"/>
<circle cx="610.3" cy="574.2" r="10.6" fill="#6063f0"/>
<circle cx="590.2" cy="581.8" r="10.6" fill="#6063f0"/>
<circle cx="567.7" cy="586.2" r="10.6" fill="#6063f0"/>
<circle cx="544.8" cy="589.0" r="10.6" fill="#6063f0"/>
<circle cx="521.6" cy="590.4" r="10.6" fill="#6063f0"/>
<circle cx="498.0" cy="588.5" r="10.6" fill="#6063f0"/>
<circle cx="475.2" cy="585.0" r="10.6" fill="#6063f0"/>
<circle cx="453.7" cy="579.0" r="10.6" fill="#6063f0"/>
<circle cx="433.5" cy="571.5" r="10.6" fill="#6063f0"/>
<circle cx="416.6" cy="561.6" r="10.6" fill="#6063f0"/>
<circle cx="400.5" cy="551.4" r="10.6" fill="#6063f0"/>
<circle cx="388.4" cy="539.3" r="10.6" fill="#6063f0"/>
<circle cx="379.8" cy="525.3" r="10.6" fill="#6063f0"/>
<circle cx="373.6" cy="510.5" r="10.6" fill="#6063f0"/>
<circle cx="372.2" cy="494.4" r="10.6" fill="#6063f0"/>
<circle cx="379.8" cy="468.5" r="10.6" fill="#6063f0"/>
<circle cx="397.2" cy="448.6" r="10.6" fill="#6063f0"/>
<circle cx="415.2" cy="433.3" r="10.6" fill="#6063f0"/>
<circle cx="450.2" cy="416.6" r="10.6" fill="#5ac894"/>
<circle cx="469.5" cy="460.7" r="10.6" fill="#5ac894"/>
<circle cx="530.1" cy="458.1" r="10.6" fill="#5ac894"/>
<circle cx="564.9" cy="458.1" r="10.6" fill="#5ac894"/>
<circle cx="574.6" cy="482.8" r="10.6" fill="#5ac894"/>
<circle cx="465.0" cy="486.9" r="10.6" fill="#5ac894"/>
<circle cx="436.2" cy="493.0" r="10.6" fill="#5ac894"/>
<circle cx="602.5" cy="506.0" r="10.6" fill="#5ac894"/>
<text x="466.0" y="412.9" font-size="7.14" fill="#111" textLength="12.4" lengthAdjust="spacingAndGlyphs">ALK</text>
<text x="484.7" y="408.8" font-size="7.14" fill="#111" textLength="26.6" lengthAdjust="spacingAndGlyphs">PDGFRA</text>
<text x="515.6" y="407.5" font-size="7.14" fill="#111" textLength="19.5" lengthAdjust="spacingAndGlyphs">IKBKB</text>
<text x="557.0" y="409.5" font-size="7.14" fill="#111" textLength="10.2" lengthAdjust="spacingAndGlyphs">KIT</text>
<text x="580.1" y="415.9" font-size="7.14" fill="#111" textLength="21.3" lengthAdjust="spacingAndGlyphs">FGFR3</text>
<text x="617.7" y="429.0" font-size="7.14" fill="#111" textLength="14.8" lengthAdjust="spacingAndGlyphs">JAK3</text>
<text x="636.4" y="442.1" font-size="7.14" fill="#111" textLength="21.3" lengthAdjust="spacingAndGlyphs">FGFR1</text>
<text x="656.1" y="461.1" font-size="7.14" fill="#111" textLength="17.0" lengthAdjust="spacingAndGlyphs">BRAF</text>
<text x="664.2" y="476.6" font-size="7.14" fill="#111" textLength="21.7" lengthAdjust="spacingAndGlyphs">EPHA2</text>
<text x="667.6" y="493.9" font-size="7.14" fill="#111" textLength="21.9" lengthAdjust="spacingAndGlyphs">NTRK2</text>
<text x="664.8" y="516.2" font-size="7.14" fill="#111" textLength="21.9" lengthAdjust="spacingAndGlyphs">NTRK3</text>
<text x="658.5" y="532.1" font-size="7.14" fill="#111" textLength="21.8" lengthAdjust="spacingAndGlyphs">ERBB2</text>
<text x="652.2" y="545.4" font-size="7.14" fill="#111" textLength="14.8" lengthAdjust="spacingAndGlyphs">JAK1</text>
<text x="636.0" y="558.0" font-size="7.14" fill="#111" textLength="19.4" lengthAdjust="spacingAndGlyphs">MTOR</text>
<text x="620.9" y="568.3" font-size="7.14" fill="#111" textLength="16.7" lengthAdjust="spacingAndGlyphs">RAF1</text>
<text x="596.9" y="576.6" font-size="7.14" fill="#111" textLength="26.9" lengthAdjust="spacingAndGlyphs">PDGFRB</text>
<text x="579.5" y="584.2" font-size="7.14" fill="#111" textLength="21.5" lengthAdjust="spacingAndGlyphs">PRKCA</text>
<text x="560.4" y="588.6" font-size="7.14" fill="#111" textLength="14.7" lengthAdjust="spacingAndGlyphs">FLT1</text>
<text x="536.0" y="591.4" font-size="7.14" fill="#111" textLength="17.5" lengthAdjust="spacingAndGlyphs">EGFR</text>
<text x="510.9" y="592.8" font-size="7.14" fill="#111" textLength="21.3" lengthAdjust="spacingAndGlyphs">FGFR2</text>
<text x="487.3" y="590.9" font-size="7.14" fill="#111" textLength="21.3" lengthAdjust="spacingAndGlyphs">FGFR4</text>
<text x="467.9" y="587.4" font-size="7.14" fill="#111" textLength="14.7" lengthAdjust="spacingAndGlyphs">FLT4</text>
<text x="446.9" y="581.4" font-size="7.14" fill="#111" textLength="13.5" lengthAdjust="spacingAndGlyphs">BCR</text>
<text x="427.2" y="573.9" font-size="7.14" fill="#111" textLength="12.7" lengthAdjust="spacingAndGlyphs">RET</text>
<text x="405.7" y="564.0" font-size="7.14" fill="#111" textLength="21.8" lengthAdjust="spacingAndGlyphs">ERBB4</text>
<text x="392.1" y="553.8" font-size="7.14" fill="#111" textLength="16.8" lengthAdjust="spacingAndGlyphs">ABL1</text>
<text x="381.0" y="541.7" font-size="7.14" fill="#111" textLength="14.8" lengthAdjust="spacingAndGlyphs">JAK2</text>
<text x="372.5" y="527.7" font-size="7.14" fill="#111" textLength="14.7" lengthAdjust="spacingAndGlyphs">FLT3</text>
<text x="364.6" y="512.9" font-size="7.14" fill="#111" textLength="18.0" lengthAdjust="spacingAndGlyphs">ROS1</text>
<text x="361.2" y="496.8" font-size="7.14" fill="#111" textLength="21.9" lengthAdjust="spacingAndGlyphs">NTRK1</text>
<text x="372.9" y="470.9" font-size="7.14" fill="#111" textLength="13.9" lengthAdjust="spacingAndGlyphs">KDR</text>
<text x="390.9" y="451.0" font-size="7.14" fill="#111" textLength="12.6" lengthAdjust="spacingAndGlyphs">AXL</text>
<text x="408.3" y="435.7" font-size="7.14" fill="#111" textLength="13.8" lengthAdjust="spacingAndGlyphs">MET</text>
<text x="433.8" y="419.0" font-size="7.14" fill="#111" textLength="32.8" lengthAdjust="spacingAndGlyphs">tofacitinib</text>
<text x="452.8" y="463.1" font-size="7.14" fill="#111" textLength="33.4" lengthAdjust="spacingAndGlyphs">gilteritinib</text>
<text x="518.0" y="460.5" font-size="7.14" fill="#111" textLength="24.2" lengthAdjust="spacingAndGlyphs">axitinib</text>
<text x="547.2" y="460.5" font-size="7.14" fill="#111" textLength="35.4" lengthAdjust="spacingAndGlyphs">entrectinib</text>
<text x="561.2" y="485.2" font-size="7.14" fill="#111" textLength="26.7" lengthAdjust="spacingAndGlyphs">imatinib</text>
<text x="452.6" y="489.3" font-size="7.14" fill="#111" textLength="24.9" lengthAdjust="spacingAndGlyphs">afatinib</text>
<text x="415.2" y="495.4" font-size="7.14" fill="#111" textLength="41.9" lengthAdjust="spacingAndGlyphs">cabozantinib</text>
<text x="582.7" y="508.4" font-size="7.14" fill="#111" textLength="39.7" lengthAdjust="spacingAndGlyphs">larotrectinib</text>
<rect x="344.0" y="389.0" width="47.0" height="31.4" rx="1.5" fill="#fff" fill-opacity="0.85" stroke="#e2e2e2" stroke-width="0.7"/>
<line x1="348.3" y1="394.5" x2="360.0" y2="394.5" stroke="#222222" stroke-width="0.90"/>
<text x="365.8" y="396.9" font-size="6.91" fill="#111" textLength="18.6" lengthAdjust="spacingAndGlyphs">22 TP</text>
<line x1="348.3" y1="404.1" x2="360.0" y2="404.1" stroke="#f0a890" stroke-width="1.40"/>
<text x="365.8" y="406.5" font-size="6.91" fill="#111" textLength="22.6" lengthAdjust="spacingAndGlyphs">102 FP</text>
<line x1="348.3" y1="413.8" x2="360.0" y2="413.8" stroke="#d8c4f8" stroke-width="2.20"/>
<text x="365.8" y="416.2" font-size="6.91" fill="#111" textLength="15.1" lengthAdjust="spacingAndGlyphs">2 FN</text>
<text x="12.1" y="669.4" font-size="25.00" font-weight="bold" fill="#000" textLength="17.2" lengthAdjust="spacingAndGlyphs" stroke="#000" stroke-width="0.7">D</text>
<line x1="98.4" y1="658.3" x2="98.4" y2="920.0" stroke="#e6e6e6" stroke-width="0.80"/>
<line x1="210.2" y1="658.3" x2="210.2" y2="920.0" stroke="#e6e6e6" stroke-width="0.80"/>
<line x1="322.0" y1="658.3" x2="322.0" y2="920.0" stroke="#e6e6e6" stroke-width="0.80"/>
<line x1="433.9" y1="658.3" x2="433.9" y2="920.0" stroke="#e6e6e6" stroke-width="0.80"/>
<line x1="545.7" y1="658.3" x2="545.7" y2="920.0" stroke="#e6e6e6" stroke-width="0.80"/>
<line x1="81.7" y1="896.5" x2="620.0" y2="896.5" stroke="#e6e6e6" stroke-width="0.80"/>
<line x1="81.7" y1="866.8" x2="620.0" y2="866.8" stroke="#e6e6e6" stroke-width="0.80"/>
<line x1="81.7" y1="837.0" x2="620.0" y2="837.0" stroke="#e6e6e6" stroke-width="0.80"/>
<line x1="81.7" y1="807.2" x2="620.0" y2="807.2" stroke="#e6e6e6" stroke-width="0.80"/>
<line x1="81.7" y1="777.5" x2="620.0" y2="777.5" stroke="#e6e6e6" stroke-width="0.80"/>
<line x1="81.7" y1="747.8" x2="620.0" y2="747.8" stroke="#e6e6e6" stroke-width="0.80"/>
<line x1="81.7" y1="718.0" x2="620.0" y2="718.0" stroke="#e6e6e6" stroke-width="0.80"/>
<line x1="81.7" y1="688.2" x2="620.0" y2="688.2" stroke="#e6e6e6" stroke-width="0.80"/>
<line x1="81.7" y1="658.5" x2="620.0" y2="658.5" stroke="#e6e6e6" stroke-width="0.80"/>
<polygon points="150.0,894.0 153.0,893.5 156.0,893.0 159.0,892.4 162.0,891.9 165.0,891.4 168.0,890.9 171.0,890.4 174.0,890.0 177.0,889.7 180.0,889.3 183.0,889.0 186.0,888.6 189.0,888.3 192.0,887.9 195.0,887.6 198.0,887.2 201.0,886.9 204.0,886.7 207.0,886.5 210.0,886.3 213.0,886.1 216.0,885.9 219.0,885.7 222.0,885.5 225.0,885.2 228.0,885.0 231.0,884.8 234.0,884.6 237.0,884.4 240.0,884.2 243.0,884.0 246.0,883.8 249.0,883.6 252.0,883.4 255.0,883.2 258.0,883.1 261.0,883.0 264.0,882.8 267.0,882.6 270.0,882.5 273.0,882.4 276.0,882.2 279.0,882.0 282.0,881.9 285.0,881.8 288.0,881.6 291.0,881.5 294.0,881.3 297.0,881.1 300.0,881.0 303.0,880.9 306.0,880.9 309.0,880.8 312.0,880.8 315.0,880.7 318.0,880.6 321.0,880.6 324.0,880.5 327.0,880.5 330.0,880.4 333.0,880.3 336.0,880.3 339.0,880.2 342.0,880.2 345.0,880.1 348.0,880.0 351.0,880.0 354.0,880.0 357.0,880.1 360.0,880.1 363.0,880.1 366.0,880.2 369.0,880.2 372.0,880.2 375.0,880.2 378.0,880.3 381.0,880.3 384.0,880.3 387.0,880.4 390.0,880.4 393.0,880.4 396.0,880.5 399.0,880.5 402.0,880.5 405.0,880.6 408.0,880.7 411.0,880.8 414.0,880.9 417.0,880.9 420.0,881.0 423.0,881.1 426.0,881.1 429.0,881.2 432.0,881.3 435.0,881.4 438.0,881.5 441.0,881.6 444.0,881.8 447.0,882.0 450.0,882.2 453.0,882.4 456.0,882.6 459.0,882.8 462.0,883.0 465.0,883.2 468.0,883.4 471.0,883.7 474.0,884.4 477.0,885.1 480.0,885.8 483.0,886.5 486.0,887.2 489.0,887.8 492.0,888.4 495.0,889.0 498.0,889.6 500.0,897.8 150.0,897.8" fill="#5860e8"/>
<path d="M150.6 888.9h0M150.5 893.3h0M151.2 893.1h0M151.6 891.0h0M152.3 894.4h0M152.8 891.7h0M152.0 885.2h0M153.7 892.1h0M153.2 894.4h0M154.1 893.8h0M154.2 894.2h0M155.4 889.5h0M155.5 891.5h0M156.7 892.3h0M156.3 879.0h0M157.8 890.6h0M157.3 893.1h0M158.1 890.0h0M158.4 888.8h0M158.4 885.6h0M159.0 892.8h0M159.9 891.6h0M160.4 893.0h0M160.6 889.3h0M161.1 892.0h0M162.0 889.2h0M161.1 892.3h0M162.1 888.7h0M162.2 890.7h0M162.4 892.3h0M163.1 890.0h0M163.1 891.3h0M164.3 883.1h0M164.8 891.4h0M164.9 891.8h0M165.9 889.5h0M165.1 880.2h0M165.2 891.5h0M166.3 891.2h0M166.1 891.9h0M167.2 889.5h0M167.4 890.3h0M168.0 890.0h0M168.9 891.1h0M168.2 885.2h0M168.8 890.9h0M169.7 883.7h0M169.2 883.3h0M169.9 888.9h0M170.1 891.4h0M171.0 890.6h0M170.7 890.6h0M171.6 890.3h0M171.2 887.8h0M172.2 888.9h0M172.9 888.4h0M172.3 884.1h0M173.0 890.3h0M173.4 890.9h0M173.2 889.8h0M174.1 889.7h0M174.9 879.5h0M174.7 887.6h0M175.1 890.8h0M175.0 883.9h0M175.7 881.2h0M176.6 888.8h0M176.7 889.6h0M177.0 890.5h0M177.7 883.8h0M177.7 887.0h0M177.8 883.3h0M178.7 883.6h0M178.9 888.9h0M178.8 884.5h0M179.6 888.9h0M179.6 887.6h0M179.1 887.4h0M180.9 886.3h0M180.4 886.3h0M181.4 884.6h0M181.1 886.0h0M181.0 887.4h0M182.2 886.4h0M182.5 887.1h0M182.9 889.1h0M183.3 886.5h0M183.2 889.4h0M183.9 886.6h0M184.9 888.5h0M184.7 889.1h0M184.4 884.8h0M185.9 888.1h0M185.6 888.5h0M186.5 883.9h0M186.8 885.6h0M187.0 888.5h0M187.5 888.5h0M187.2 887.8h0M187.6 887.3h0M188.8 876.5h0M188.5 889.1h0M188.0 882.9h0M189.7 886.5h0M189.3 884.3h0M189.0 888.8h0M190.0 883.5h0M190.2 888.7h0M190.0 886.0h0M191.6 885.5h0M191.8 878.7h0M191.7 888.3h0M192.2 888.9h0M192.5 884.8h0M192.2 887.9h0M193.7 886.3h0M193.6 884.1h0M193.4 883.6h0M194.1 879.8h0M194.7 888.2h0M194.5 885.4h0M195.4 885.8h0M195.9 883.2h0M195.9 886.4h0M196.2 884.2h0M196.8 884.9h0M196.7 887.6h0M198.0 875.5h0M197.5 883.0h0M197.3 880.3h0M198.3 887.9h0M198.4 885.5h0M198.8 885.9h0M199.8 887.8h0M199.8 887.4h0M199.3 882.8h0M200.1 885.5h0M200.7 881.7h0M200.7 878.0h0M201.9 887.6h0M201.2 885.4h0M201.3 883.4h0M202.5 881.4h0M202.6 886.5h0M202.4 881.4h0M203.2 881.2h0M204.0 885.1h0M203.6 887.0h0M204.5 884.4h0M204.0 875.6h0M204.5 885.9h0M205.6 885.2h0M205.7 887.4h0M205.5 885.7h0M206.9 886.4h0M206.5 887.1h0M206.4 881.6h0M207.5 886.1h0M207.2 884.1h0M207.9 887.0h0M208.0 886.7h0M208.2 883.3h0M208.3 885.9h0M209.1 882.7h0M209.1 884.8h0M209.3 886.6h0M210.4 885.6h0M210.4 884.6h0M210.2 886.5h0M211.6 884.4h0M211.9 883.7h0M211.9 886.2h0M212.8 878.6h0M212.3 885.8h0M212.9 886.2h0M213.9 886.5h0M213.2 882.3h0M213.3 886.7h0M214.4 881.2h0M214.1 885.1h0M214.7 886.9h0M215.7 877.9h0M216.0 886.4h0M215.5 881.6h0M216.7 886.0h0M216.1 886.5h0M216.0 883.9h0M217.6 886.2h0M217.2 885.9h0M217.8 869.3h0M218.1 886.5h0M219.0 884.3h0M218.8 885.2h0M219.5 884.5h0M219.6 886.6h0M219.7 879.6h0M220.5 881.4h0M220.4 885.7h0M220.2 883.9h0M221.9 880.3h0M221.7 878.9h0M221.6 884.5h0M221.6 883.8h0M222.8 885.3h0M222.9 881.1h0M222.8 879.9h0M223.9 878.1h0M223.7 880.7h0M223.8 884.3h0M224.1 884.7h0M224.5 886.2h0M224.4 882.3h0M225.2 874.9h0M225.7 884.6h0M225.7 882.9h0M226.4 850.5h0M226.6 881.4h0M226.8 870.7h0M227.6 880.8h0M227.3 884.1h0M227.1 885.2h0M227.4 885.7h0M228.9 882.8h0M228.5 872.4h0M228.6 864.9h0M229.8 885.6h0M229.6 880.2h0M229.0 875.4h0M230.5 885.1h0M230.5 882.1h0M230.1 874.3h0M230.4 882.9h0M231.4 884.4h0M231.7 882.5h0M231.3 880.7h0M232.0 884.6h0M232.0 885.1h0M232.8 883.7h0M233.7 885.4h0M234.0 873.8h0M233.1 876.1h0M234.5 870.8h0M234.2 882.6h0M234.9 880.3h0M236.0 878.5h0M235.6 885.0h0M235.6 883.0h0M236.1 882.4h0M236.1 883.1h0M236.7 882.9h0M236.3 881.9h0M237.8 882.2h0M238.0 872.7h0M237.7 884.2h0M238.9 878.9h0M238.6 883.4h0M238.3 880.5h0M238.6 881.6h0M239.8 884.3h0M239.2 868.9h0M239.9 876.3h0M240.1 883.9h0M240.4 881.1h0M240.1 881.9h0M240.1 884.8h0M241.6 880.9h0M241.4 882.4h0M241.2 883.3h0M242.8 884.7h0M242.1 878.0h0M242.6 878.8h0M243.4 883.7h0M243.8 883.0h0M243.7 865.6h0M243.3 881.6h0M244.9 882.5h0M244.4 884.5h0M244.9 884.5h0M245.6 882.0h0M245.7 883.3h0M245.8 884.5h0M245.2 880.2h0M246.3 879.2h0M246.7 883.3h0M246.1 882.9h0M246.7 882.8h0M247.7 881.0h0M247.9 872.4h0M247.9 882.1h0M247.8 883.1h0M248.4 872.7h0M248.9 883.3h0M248.4 882.6h0M248.4 882.4h0M249.2 880.9h0M249.8 881.1h0M249.8 880.9h0M249.2 878.3h0M250.3 884.4h0M250.5 881.0h0M250.6 869.5h0M251.8 884.1h0M251.5 877.6h0M251.1 884.1h0M252.9 884.0h0M252.6 883.7h0M252.7 879.7h0M253.2 877.9h0M253.5 877.9h0M253.4 882.5h0M254.0 879.3h0M254.5 878.6h0M254.7 873.3h0M254.4 876.5h0M255.9 876.9h0M255.8 874.4h0M256.0 879.6h0M256.7 876.9h0M256.4 881.7h0M256.1 878.1h0M257.4 883.3h0M257.2 881.7h0M257.3 868.4h0M258.3 883.5h0M258.6 877.3h0M258.2 883.8h0M258.5 880.1h0M259.0 883.5h0M259.2 882.9h0M259.2 878.3h0M260.2 883.1h0M260.3 883.1h0M260.8 882.3h0M261.8 880.9h0M261.3 874.0h0M261.9 882.0h0M263.0 880.9h0M262.2 883.7h0M262.9 876.5h0M263.5 880.5h0M263.3 862.7h0M263.7 882.6h0M263.0 880.9h0M264.8 878.0h0M264.6 883.0h0M264.2 882.0h0M264.3 874.5h0M265.6 860.9h0M265.3 880.2h0M265.2 877.0h0M266.8 875.0h0M266.8 883.3h0M266.3 877.9h0M266.1 880.7h0M268.0 879.5h0M267.9 881.9h0M267.8 881.1h0M268.1 875.5h0M268.2 880.0h0M268.5 882.8h0M269.3 881.8h0M269.1 881.9h0M269.5 877.7h0M270.7 882.9h0M270.4 880.6h0M271.0 875.2h0M270.7 883.4h0M271.7 882.2h0M271.6 880.6h0M271.0 861.2h0M271.8 882.3h0M272.3 881.2h0M272.5 881.7h0M272.3 881.1h0M273.3 882.3h0M273.7 881.4h0M273.9 879.4h0M274.3 875.1h0M274.1 882.6h0M274.1 878.0h0M275.2 880.8h0M275.8 879.0h0M275.1 882.0h0M276.1 880.7h0M276.1 871.3h0M276.4 879.8h0M276.6 876.3h0M277.4 881.2h0M277.4 883.1h0M277.4 877.4h0M278.8 877.9h0M278.6 883.0h0M278.3 881.1h0M279.1 880.8h0M279.5 875.6h0M279.8 878.5h0M280.8 871.8h0M280.5 880.9h0M280.5 882.2h0M280.7 862.3h0M281.7 874.3h0M281.2 869.1h0M281.6 881.9h0M282.2 878.8h0M282.7 881.0h0M282.9 880.7h0M282.5 882.2h0M283.1 871.6h0M283.5 878.9h0M283.6 881.3h0M285.0 874.6h0M284.6 882.1h0M284.8 881.1h0M285.2 878.6h0M285.8 881.7h0M285.5 882.3h0M286.2 861.7h0M286.9 877.5h0M286.3 877.3h0M286.7 880.3h0M287.8 882.5h0M287.2 879.6h0M287.1 880.3h0M288.2 879.0h0M288.3 878.5h0M288.3 877.6h0M289.7 881.8h0M290.0 878.0h0M289.5 879.9h0M289.6 876.8h0M290.8 879.2h0M291.0 873.5h0M290.9 879.9h0M291.6 870.9h0M291.5 878.8h0M291.4 870.9h0M292.1 876.1h0M292.9 875.9h0M292.6 875.5h0M292.3 878.0h0M293.1 879.4h0M293.5 879.8h0M293.1 876.5h0M293.5 881.0h0M294.4 881.0h0M294.1 870.4h0M295.0 876.8h0M294.9 879.6h0M295.2 875.5h0M295.6 870.7h0M295.1 874.5h0M296.5 867.2h0M296.0 880.8h0M296.3 880.2h0M296.1 871.0h0M297.4 879.9h0M297.6 881.9h0M297.0 870.8h0M298.5 868.5h0M299.0 878.9h0M298.2 880.3h0M298.9 870.7h0M299.8 879.8h0M299.5 881.1h0M299.9 855.1h0M299.2 877.0h0M300.9 881.7h0M300.1 875.5h0M300.3 870.5h0M300.9 875.7h0M301.7 868.1h0M301.4 881.6h0M301.2 880.1h0M301.7 880.9h0M302.2 876.5h0M302.8 879.6h0M302.7 871.2h0M302.6 880.7h0M303.9 876.4h0M303.3 876.8h0M303.1 861.6h0M303.4 878.2h0M304.0 877.4h0M304.3 880.5h0M304.8 881.5h0M305.8 880.5h0M305.3 877.9h0M305.2 870.6h0M306.0 881.7h0M306.8 879.5h0M306.9 878.4h0M306.2 877.8h0M307.4 876.5h0M307.8 878.2h0M307.5 872.6h0M308.5 866.8h0M308.2 874.3h0M308.2 877.2h0M309.4 874.5h0M309.8 874.1h0M309.2 878.5h0M309.2 877.5h0M310.0 877.3h0M310.7 877.6h0M310.9 880.8h0M311.0 878.4h0M311.4 878.9h0M311.3 873.9h0M311.1 870.0h0M312.5 874.0h0M312.2 881.0h0M312.3 881.5h0M313.6 878.1h0M313.3 877.4h0M313.1 873.3h0M313.2 880.3h0M314.7 872.9h0M314.8 881.4h0M314.4 879.5h0M314.2 864.3h0M315.5 874.6h0M316.0 880.9h0M315.5 875.0h0M315.0 880.3h0M316.1 879.2h0M316.3 879.0h0M316.1 881.5h0M317.8 875.1h0M317.2 880.2h0M317.6 880.3h0M318.9 879.4h0M318.3 862.1h0M318.6 881.4h0M319.6 881.3h0M319.3 875.8h0M319.9 877.2h0M320.5 879.1h0M320.8 879.2h0M320.8 880.4h0M321.2 877.7h0M321.2 880.5h0M321.2 878.5h0M321.3 878.7h0M322.7 871.8h0M322.2 879.2h0M322.1 875.8h0M323.3 881.4h0M323.2 880.1h0M323.4 869.0h0M323.7 880.0h0M324.2 868.1h0M324.4 874.4h0M324.7 869.9h0M324.0 879.6h0M325.1 871.1h0M325.3 874.3h0M325.5 881.2h0M325.4 880.2h0M326.2 877.1h0M326.0 879.7h0M326.4 877.6h0M326.1 875.5h0M327.7 876.1h0M327.1 880.3h0M327.3 875.4h0M327.4 879.1h0M328.2 879.8h0M328.3 880.3h0M328.0 881.3h0M329.6 873.4h0M330.0 879.7h0M329.7 869.2h0M330.7 876.1h0M331.0 871.6h0M330.2 876.5h0M330.1 878.7h0M331.1 879.0h0M331.3 878.0h0M331.3 880.5h0M331.4 878.2h0M332.7 880.0h0M332.1 879.3h0M332.4 880.6h0M332.6 875.5h0M333.7 881.2h0M333.4 879.1h0M333.1 878.8h0M334.5 877.1h0M334.5 879.4h0M334.3 881.2h0M334.3 870.6h0M335.3 876.0h0M335.2 878.2h0M335.6 866.4h0M336.6 867.5h0M336.8 876.5h0M336.6 878.7h0M336.4 879.7h0M337.9 878.9h0M337.9 881.1h0M337.1 877.9h0M338.4 863.1h0M338.1 880.2h0M338.2 875.8h0M338.2 881.2h0M339.4 879.9h0M339.5 876.2h0M339.5 876.5h0M340.8 864.6h0M340.3 879.2h0M340.9 879.4h0M341.7 875.6h0M342.0 872.8h0M341.2 876.5h0M342.6 878.9h0M342.3 874.5h0M342.5 879.9h0M343.3 880.2h0M343.5 880.5h0M343.1 880.8h0M343.1 875.3h0M344.5 874.0h0M344.5 880.3h0M344.9 871.4h0M344.1 879.7h0M345.8 878.7h0M345.7 879.7h0M345.7 879.2h0M346.8 872.2h0M346.8 877.1h0M346.4 875.2h0M346.6 872.6h0M347.1 878.8h0M347.7 879.8h0M347.2 881.0h0M348.9 864.3h0M348.1 875.5h0M348.4 876.3h0M349.9 859.7h0M349.0 875.1h0M349.1 880.8h0M349.3 874.8h0M350.1 879.1h0M350.0 877.3h0M350.5 878.8h0M351.8 872.4h0M351.3 878.7h0M351.6 874.1h0M352.0 878.7h0M352.5 873.4h0M352.1 880.1h0M352.1 868.2h0M353.5 880.4h0M353.3 880.9h0M353.6 880.3h0M353.6 879.5h0M354.5 878.9h0M354.3 880.8h0M354.1 870.5h0M354.3 880.7h0M355.5 853.4h0M355.2 871.5h0M355.5 878.5h0M355.8 878.7h0M356.6 876.0h0M356.6 879.5h0M356.9 871.6h0M357.0 878.3h0M357.7 880.2h0M357.0 880.2h0M357.1 880.7h0M358.8 879.3h0M358.5 881.0h0M358.2 866.0h0M359.5 873.3h0M359.8 874.8h0M359.4 873.5h0M359.8 874.2h0M360.1 867.0h0M360.4 875.4h0M360.3 869.8h0M361.6 879.9h0M361.4 879.0h0M361.7 873.3h0M361.4 876.3h0M362.3 870.1h0M362.3 880.7h0M362.3 874.8h0M363.7 877.4h0M363.7 880.2h0M363.1 880.4h0M364.4 881.1h0M364.5 878.7h0M364.3 877.5h0M365.2 871.2h0M365.3 874.6h0M365.1 860.7h0M367.0 880.0h0M366.4 875.4h0M366.2 879.7h0M367.9 879.4h0M367.2 879.1h0M368.0 880.4h0M368.4 876.4h0M368.2 876.7h0M368.9 872.2h0M369.5 877.3h0M369.1 872.7h0M369.7 878.4h0M370.4 878.9h0M370.2 876.9h0M370.6 877.8h0M371.6 878.5h0M371.6 877.0h0M371.9 880.5h0M371.5 858.3h0M372.3 875.0h0M373.0 878.8h0M372.9 880.6h0M373.5 880.0h0M373.8 876.4h0M373.9 873.1h0M374.5 857.8h0M374.1 871.8h0M374.7 879.9h0M375.5 877.7h0M375.9 880.3h0M375.3 876.5h0M376.6 874.1h0M376.5 880.0h0M376.8 872.4h0M377.5 870.4h0M377.8 880.5h0M377.4 880.8h0M378.3 872.1h0M378.8 880.7h0M378.2 879.0h0M379.6 870.6h0M379.1 861.0h0M379.2 876.7h0M380.7 880.3h0M380.7 878.7h0M380.0 879.4h0M381.6 879.8h0M381.6 875.9h0M381.2 880.7h0M382.5 880.7h0M382.1 868.5h0M382.6 879.3h0M384.0 876.1h0M383.7 879.3h0M383.3 879.0h0M384.6 878.9h0M384.8 879.0h0M384.5 878.2h0M385.3 876.0h0M385.2 877.5h0M386.9 879.9h0M386.9 876.4h0M386.5 869.5h0M387.7 877.4h0M387.4 881.1h0M387.4 879.9h0M389.0 879.9h0M388.7 876.6h0M388.2 879.1h0M389.9 880.2h0M389.4 879.6h0M389.8 873.3h0M390.5 881.0h0M390.9 881.0h0M390.4 879.4h0M391.7 879.7h0M391.9 868.9h0M391.0 877.2h0M392.4 878.8h0M392.3 876.8h0M392.6 866.8h0M394.0 879.4h0M393.8 877.1h0M395.0 881.2h0M394.5 879.3h0M395.2 862.8h0M395.2 879.6h0M395.1 879.4h0M396.1 880.7h0M396.6 877.5h0M397.3 874.8h0M397.7 875.5h0M398.5 881.4h0M398.9 870.1h0M398.9 881.4h0M399.5 878.5h0M399.1 875.4h0M399.3 878.7h0M400.6 881.0h0M400.1 878.7h0M400.3 875.7h0M401.4 881.3h0M401.2 879.2h0M401.6 879.2h0M402.1 874.3h0M402.2 868.1h0M403.4 878.0h0M403.9 869.1h0M403.4 881.5h0M404.8 876.7h0M404.7 881.0h0M404.5 881.5h0M405.3 869.0h0M405.6 874.7h0M405.0 879.6h0M406.3 881.2h0M406.9 880.2h0M406.5 877.8h0M407.9 878.7h0M407.5 873.2h0M408.3 876.9h0M408.3 880.1h0M408.4 879.4h0M409.4 879.6h0M409.0 875.3h0M409.1 879.0h0M410.4 880.9h0M410.1 880.1h0M411.5 880.9h0M411.7 879.5h0M411.0 879.9h0M412.0 878.7h0M413.0 880.3h0M413.4 880.6h0M413.6 878.8h0M414.5 879.4h0M414.8 881.7h0M414.1 880.9h0M415.8 880.0h0M415.9 880.2h0M415.3 878.0h0M417.0 876.0h0M416.3 880.6h0M416.8 876.8h0M417.1 877.2h0M417.0 878.7h0M418.9 878.7h0M418.0 873.0h0M419.6 882.0h0M419.7 880.3h0M421.0 874.1h0M420.1 877.1h0M421.8 880.5h0M421.4 880.2h0M422.3 877.9h0M422.1 881.7h0M422.8 878.6h0M423.1 881.7h0M423.3 872.4h0M424.9 881.4h0M424.4 879.7h0M425.1 875.7h0M425.5 882.0h0M426.4 878.7h0M426.9 880.1h0M427.4 877.6h0M427.1 878.0h0M428.6 881.5h0M428.3 881.7h0M428.3 879.5h0M429.4 879.6h0M429.8 880.9h0M430.5 870.4h0M430.3 878.7h0M431.3 878.4h0M431.6 881.4h0M431.1 877.0h0M432.7 880.6h0M432.6 879.9h0M433.9 880.6h0M433.5 881.6h0M434.1 881.3h0M434.8 882.3h0M435.6 880.0h0M435.3 881.9h0M436.8 877.7h0M436.1 877.9h0M437.2 880.2h0M437.6 882.1h0M437.8 879.9h0M438.9 879.1h0M438.4 873.8h0M439.3 876.9h0M439.7 881.6h0M440.0 880.3h0M440.3 881.5h0M440.3 882.1h0M441.3 881.6h0M441.3 880.6h0M442.2 877.1h0M442.9 880.1h0M443.7 880.6h0M443.7 875.8h0M444.3 882.6h0M444.9 881.6h0M445.2 881.2h0M445.4 879.3h0M446.5 880.7h0M446.3 882.2h0M447.1 875.3h0M447.7 882.8h0M448.1 880.8h0M448.1 870.9h0M449.9 883.0h0M449.7 883.0h0M450.6 872.4h0M450.7 878.1h0M450.8 881.3h0M451.5 882.7h0M451.5 882.1h0M451.5 882.7h0M452.4 881.6h0M452.1 881.6h0M454.0 881.3h0M453.1 882.4h0M454.7 876.3h0M455.0 875.8h0M455.9 876.6h0M455.0 881.8h0M456.7 881.2h0M456.6 876.7h0M457.5 875.6h0M457.0 883.3h0M457.9 875.8h0M458.0 879.2h0M458.7 881.9h0M458.6 880.2h0M459.0 883.6h0M459.8 874.6h0M460.4 882.8h0M460.3 883.8h0M461.3 881.8h0M461.5 882.9h0M462.5 883.3h0M462.9 883.6h0M463.3 882.5h0M463.8 883.1h0M464.7 883.4h0M464.5 883.4h0M465.2 883.5h0M465.3 883.2h0M466.7 880.6h0M466.5 884.1h0M467.2 883.7h0M467.4 873.6h0M468.4 878.8h0M469.0 883.3h0M469.8 881.0h0M469.3 880.8h0M470.3 882.5h0M470.7 883.2h0M471.0 883.2h0M471.4 884.7h0M472.1 884.5h0M472.9 877.9h0M473.3 879.3h0M474.7 879.1h0M474.2 885.2h0M475.9 883.0h0M475.9 884.6h0M476.1 885.2h0M476.9 886.0h0M477.3 886.1h0M477.3 885.8h0M478.5 884.8h0M478.6 883.4h0M479.9 886.6h0M479.2 886.5h0M480.8 881.5h0M480.5 886.6h0M481.6 886.5h0M481.8 879.7h0M482.6 883.5h0M482.5 887.0h0M484.0 887.7h0M484.4 887.8h0M485.2 885.3h0M485.2 888.0h0M486.8 887.0h0M486.7 887.1h0M487.0 887.7h0M487.0 887.8h0M488.4 887.4h0M489.3 888.0h0M490.6 888.1h0M491.5 888.5h0M492.2 884.1h0M493.9 889.4h0M495.0 889.4h0M495.7 889.6h0M495.6 889.8h0M496.3 890.1h0M497.3 889.0h0M498.9 889.5h0M499.0 889.6h0M104.3 895.1h0M104.5 896.6h0M104.5 894.7h0M104.3 895.6h0M104.8 896.3h0M105.8 896.2h0M105.5 895.7h0M105.9 895.5h0M105.3 893.1h0M105.3 896.4h0M106.8 893.5h0M106.9 894.5h0M106.7 893.5h0M106.2 893.4h0M106.2 887.7h0M107.3 893.7h0M107.9 891.4h0M107.1 894.6h0M108.0 892.7h0M107.2 894.4h0M109.0 894.8h0M108.7 896.7h0M108.8 893.7h0M108.6 891.1h0M108.5 895.8h0M109.0 896.4h0M109.2 894.7h0M109.7 895.3h0M109.3 896.4h0M109.7 891.1h0M110.9 892.0h0M111.0 894.9h0M110.8 896.0h0M110.5 883.4h0M110.5 895.5h0M111.2 896.4h0M111.2 893.2h0M111.4 895.3h0M111.6 895.7h0M111.2 895.5h0M112.1 895.7h0M112.8 895.2h0M112.9 892.1h0M112.5 884.9h0M112.2 892.0h0M113.6 896.2h0M113.7 896.0h0M113.6 894.4h0M113.4 896.6h0M114.0 892.9h0M114.3 894.4h0M114.1 895.7h0M114.7 895.8h0M114.7 885.3h0M114.1 896.7h0M115.0 896.6h0M115.5 896.6h0M115.9 895.5h0M115.3 888.6h0M115.3 896.3h0M116.5 895.7h0M116.9 896.2h0M116.7 895.6h0M116.4 895.6h0M116.6 895.7h0M117.8 895.6h0M117.9 895.6h0M117.9 889.3h0M117.4 894.6h0M117.3 894.2h0M118.7 894.6h0M118.7 896.3h0M118.5 889.0h0M118.7 896.8h0M118.8 896.2h0M119.2 895.8h0M119.2 886.8h0M119.8 893.2h0M119.6 894.3h0M119.7 895.1h0M120.7 895.2h0M121.0 896.5h0M120.3 894.2h0M120.3 895.1h0M120.5 896.4h0M121.9 894.6h0M121.8 895.7h0M121.6 895.6h0M122.0 895.1h0M121.4 890.2h0M122.7 894.5h0M122.4 896.2h0M122.5 896.8h0M122.7 896.5h0M122.9 891.4h0M123.2 896.5h0M123.8 894.1h0M123.5 884.0h0M123.9 896.3h0M123.7 896.0h0M124.2 895.5h0M124.4 893.5h0M124.6 888.1h0M124.2 894.9h0M125.0 896.0h0M125.4 893.3h0M125.7 896.4h0M125.7 896.3h0M125.9 896.3h0M125.2 885.5h0M126.1 893.1h0M126.6 889.6h0M127.0 895.0h0M126.1 885.4h0M126.2 896.2h0M127.7 896.0h0M127.3 895.2h0M127.4 896.2h0M127.3 896.8h0M127.6 896.2h0M128.8 895.5h0M128.3 892.4h0M128.6 894.6h0M128.5 895.7h0M128.5 895.5h0M129.5 893.7h0M129.2 896.8h0M129.0 893.6h0M129.3 896.4h0M129.8 894.5h0M130.7 895.6h0M130.6 892.6h0M130.9 890.8h0M131.0 895.2h0M130.3 892.8h0M132.0 896.6h0M131.0 896.5h0M131.6 896.6h0M131.9 895.7h0M131.6 895.1h0M132.5 892.2h0M132.2 895.6h0M132.3 895.1h0M132.0 896.3h0M132.2 896.6h0M133.3 890.5h0M133.1 894.8h0M133.8 894.2h0M133.1 896.7h0M133.1 891.8h0M134.5 890.5h0M134.3 893.3h0M134.6 894.9h0M134.0 895.1h0M134.8 896.2h0M135.2 895.4h0M135.2 896.1h0M135.7 896.7h0M135.2 896.1h0M135.7 889.0h0M136.6 895.8h0M136.5 896.7h0M136.4 893.5h0M137.0 895.9h0M136.1 895.0h0M137.2 895.4h0M137.8 895.1h0M137.2 883.4h0M137.0 896.4h0M137.8 894.9h0M138.8 883.9h0M138.1 893.5h0M138.9 895.8h0M138.0 893.1h0M138.9 896.7h0M139.3 896.4h0M139.2 894.8h0M139.2 895.3h0M139.1 895.1h0M139.4 886.4h0M140.2 883.1h0M140.6 895.8h0M140.9 896.5h0M140.7 895.9h0M140.9 896.7h0M141.3 894.0h0M141.7 891.6h0M141.4 893.0h0M141.1 889.0h0M141.9 895.9h0M143.0 892.2h0M142.9 883.0h0M142.7 890.3h0M142.4 895.1h0M142.8 896.7h0M143.3 896.0h0M143.2 895.6h0M144.0 896.2h0M143.7 896.4h0M143.2 895.2h0M144.0 889.9h0M144.3 887.3h0M144.1 894.3h0M144.5 894.2h0M144.9 895.7h0M145.4 896.0h0M145.5 894.5h0M145.8 890.0h0M145.6 888.8h0M145.2 894.2h0M146.7 892.6h0M146.0 895.6h0M146.7 895.2h0M146.4 896.6h0M146.0 891.9h0M147.1 895.3h0M147.6 893.3h0M147.1 894.6h0M147.9 895.2h0M147.9 894.5h0M148.3 893.8h0M148.5 896.8h0M148.3 895.0h0M148.5 896.7h0M148.6 894.5h0M149.8 896.1h0M149.5 893.5h0M149.9 895.5h0M149.5 895.9h0M149.0 885.7h0M150.2 896.5h0M150.6 893.9h0M150.3 895.9h0M150.2 896.8h0M150.5 896.5h0M151.9 885.7h0M151.2 895.6h0M151.1 891.3h0M151.1 893.8h0M151.0 894.7h0M152.9 893.7h0M152.0 895.0h0M152.3 891.8h0M152.6 896.6h0M152.9 894.9h0M153.7 892.1h0M153.0 895.4h0M153.5 890.8h0M153.2 895.2h0M153.2 894.1h0M154.3 895.7h0M154.7 895.6h0M154.1 896.4h0M154.5 894.7h0M154.4 896.4h0M155.6 896.5h0M155.6 894.9h0M155.6 892.6h0M155.4 894.7h0M155.4 895.9h0M515.9 893.6h0M536.0 892.6h0M530.4 895.1h0M528.9 894.4h0M511.3 896.0h0M535.9 895.4h0M541.5 895.7h0M505.3 894.2h0M506.4 893.1h0M503.8 892.5h0M511.5 896.4h0M539.5 894.7h0M515.9 894.8h0M513.1 896.2h0M519.1 895.8h0M501.4 892.5h0M528.7 895.8h0M508.6 894.4h0M505.4 892.6h0M527.1 894.4h0M500.7 893.3h0M514.4 895.5h0M546.9 895.0h0M598.5 895.7h0M564.8 893.3h0M576.6 894.8h0M551.9 896.2h0M575.6 895.8h0M550.3 895.0h0M199.2 740.6h0M248.0 738.8h0M277.0 733.5h0M223.4 870.8h0M286.7 869.0h0M343.5 866.4h0M296.9 861.0h0M316.7 864.7h0M223.7 862.1h0M262.0 861.8h0M307.0 865.1h0M285.5 867.0h0M323.8 853.8h0M221.8 852.9h0M224.1 870.2h0M246.4 860.3h0M269.8 862.7h0M241.9 866.8h0M249.8 868.1h0M320.5 852.0h0M282.2 853.8h0M332.6 853.3h0M240.1 866.6h0M288.6 864.7h0M262.0 861.9h0M230.5 860.8h0M238.6 864.8h0M216.0 854.6h0M229.6 862.1h0M287.3 852.1h0M348.1 867.9h0M293.2 851.8h0M355.6 871.4h0M264.9 866.1h0M354.5 870.5h0M269.2 850.9h0M263.0 853.6h0M366.0 869.8h0M306.3 851.1h0M289.4 853.8h0M330.8 865.3h0M348.7 858.5h0M304.0 859.2h0M291.8 858.9h0M335.9 865.1h0M285.7 861.6h0M260.3 849.1h0M294.2 856.6h0M244.6 849.9h0M299.6 870.6h0M357.3 848.7h0M284.3 856.8h0M283.6 851.3h0M322.7 868.1h0M293.4 852.2h0M254.7 848.4h0M347.1 853.5h0M341.4 867.0h0M251.7 852.5h0M284.2 866.5h0M343.2 855.3h0M303.3 856.5h0M306.0 867.0h0M276.6 867.5h0M368.8 862.4h0M374.3 870.5h0M264.0 871.8h0M268.1 867.3h0M257.0 855.3h0M301.9 868.1h0M335.3 852.9h0M433.9 873.8h0M410.6 860.8h0M397.1 864.7h0M405.1 875.1h0M415.7 873.1h0M384.3 863.9h0M423.9 865.4h0M393.6 861.0h0M383.1 866.6h0M412.8 866.4h0M413.9 864.7h0M381.0 870.8h0M223.0 765.7h0M264.6 770.5h0M293.4 789.4h0M314.6 799.3h0M211.4 808.1h0M229.2 806.1h0M210.3 815.2h0M227.8 822.8h0M267.4 820.8h0M252.4 829.0h0M238.5 834.1h0M311.8 818.6h0M287.2 839.8h0M292.3 839.8h0M307.6 839.8h0M172.6 850.5h0M196.7 844.3h0M225.0 849.4h0M232.0 850.0h0M253.3 846.3h0M262.6 847.1h0M265.4 847.1h0M272.2 845.4h0M280.1 846.3h0M286.4 844.3h0M348.0 842.6h0M328.2 856.2h0M173.0 850.5h0M163.0 869.9h0M180.2 874.5h0M187.2 873.2h0M189.7 872.7h0M198.0 862.0h0M198.0 865.0h0M140.8 879.5h0M149.1 879.5h0M175.5 879.5h0M197.2 878.9h0M353.0 775.8h0M357.8 778.4h0M385.5 796.0h0M357.8 809.1h0M407.7 813.7h0M457.2 824.6h0M347.9 842.2h0M360.4 840.2h0M406.7 839.2h0M372.3 852.7h0M439.0 869.3h0M421.2 866.5h0M434.7 872.9h0M343.6 659.6h0M265.2 769.9h0M353.4 775.7h0M357.5 778.5h0M596.2 893.3h0M590.0 894.5h0" stroke="#5c64e6" stroke-width="2.60" stroke-linecap="round" fill="none" stroke-opacity="0.85"/>
<path d="M256.4 854.2h0M268.4 853.6h0M288.6 855.5h0M293.6 853.3h0M293.8 857.0h0M308.8 848.7h0M313.0 848.7h0M317.1 860.3h0M339.5 854.7h0M348.7 848.3h0M366.4 855.5h0M398.5 857.5h0M440.0 850.5h0M452.0 866.0h0M421.5 869.5h0M221.6 764.2h0M278.7 769.0h0M258.9 775.6h0M284.9 779.0h0M338.1 780.7h0M343.2 779.0h0M223.6 805.3h0M210.0 815.7h0M196.7 822.8h0M230.6 825.6h0M325.4 822.8h0M347.2 827.3h0M196.7 843.5h0M177.7 849.1h0M176.9 856.2h0M190.5 855.3h0M217.3 852.8h0M234.9 846.3h0M240.0 842.6h0M241.1 856.2h0M256.1 854.2h0M266.5 842.6h0M273.6 842.6h0M276.7 844.9h0M268.2 853.4h0M288.6 856.2h0M293.4 853.4h0M309.0 849.1h0M312.7 849.1h0M336.7 839.8h0M339.5 854.8h0M316.9 859.0h0M342.8 778.8h0M357.0 786.1h0M347.3 827.3h0M354.5 840.0h0M348.5 848.5h0M366.3 855.2h0M398.8 861.0h0M422.2 855.6h0M302.9 741.8h0M342.5 742.9h0M221.9 764.2h0M338.5 780.7h0M356.8 786.4h0" stroke="#e26a4e" stroke-width="2.60" stroke-linecap="round" fill="none" stroke-opacity="0.90"/>
<polyline points="133.9,810.6 189.9,783.0 245.9,766.0 301.9,733.0 357.9,725.4 413.5,765.0 469.3,816.0 525.6,811.8 581.1,892.7" fill="none" stroke="#8a8a8a" stroke-width="1" stroke-dasharray="3.7 1.6"/>
<rect x="131.8" y="808.5" width="4.2" height="4.2" fill="#8a8a8a"/>
<rect x="187.8" y="780.9" width="4.2" height="4.2" fill="#8a8a8a"/>
<rect x="243.8" y="763.9" width="4.2" height="4.2" fill="#8a8a8a"/>
<rect x="299.8" y="730.9" width="4.2" height="4.2" fill="#8a8a8a"/>
<rect x="355.8" y="723.3" width="4.2" height="4.2" fill="#8a8a8a"/>
<rect x="411.4" y="762.9" width="4.2" height="4.2" fill="#8a8a8a"/>
<rect x="467.2" y="813.9" width="4.2" height="4.2" fill="#8a8a8a"/>
<rect x="523.5" y="809.7" width="4.2" height="4.2" fill="#8a8a8a"/>
<rect x="579.0" y="890.6" width="4.2" height="4.2" fill="#8a8a8a"/>
<polyline points="133.9,894.6 189.9,893.0 245.9,890.6 301.9,886.6 357.9,882.0 413.5,870.5 469.3,860.2 525.6,777.3 581.1,703.8" fill="none" stroke="#d8435e" stroke-width="1" stroke-dasharray="3.7 1.6"/>
<rect x="131.8" y="892.5" width="4.2" height="4.2" fill="#d0405a"/>
<rect x="187.8" y="890.9" width="4.2" height="4.2" fill="#d0405a"/>
<rect x="243.8" y="888.5" width="4.2" height="4.2" fill="#d0405a"/>
<rect x="299.8" y="884.5" width="4.2" height="4.2" fill="#d0405a"/>
<rect x="355.8" y="879.9" width="4.2" height="4.2" fill="#d0405a"/>
<rect x="411.4" y="868.4" width="4.2" height="4.2" fill="#d0405a"/>
<rect x="467.2" y="858.1" width="4.2" height="4.2" fill="#d0405a"/>
<rect x="523.5" y="775.2" width="4.2" height="4.2" fill="#d0405a"/>
<rect x="579.0" y="701.7" width="4.2" height="4.2" fill="#d0405a"/>
<line x1="431.3" y1="776.2" x2="525.1" y2="764.8" stroke="#333" stroke-width="0.90"/>
<line x1="445.0" y1="809.2" x2="547.4" y2="797.9" stroke="#333" stroke-width="0.90"/>
<line x1="395.5" y1="823.7" x2="543.7" y2="820.9" stroke="#333" stroke-width="0.90"/>
<line x1="375.2" y1="839.6" x2="502.0" y2="835.8" stroke="#333" stroke-width="0.90"/>
<line x1="395.5" y1="823.7" x2="302.1" y2="811.5" stroke="#333" stroke-width="0.90"/>
<line x1="555.5" y1="892.9" x2="516.8" y2="874.2" stroke="#333" stroke-width="0.90"/>
<line x1="404.4" y1="895.0" x2="430.9" y2="884.5" stroke="#333" stroke-width="0.90"/>
<line x1="536.1" y1="894.9" x2="484.1" y2="910.2" stroke="#333" stroke-width="0.90"/>
<circle cx="431.3" cy="776.2" r="2.4" fill="#8455e2" stroke="#5a34b0" stroke-width="0.6"/>
<circle cx="445.0" cy="809.2" r="2.4" fill="#8455e2" stroke="#5a34b0" stroke-width="0.6"/>
<circle cx="395.5" cy="823.7" r="2.4" fill="#8455e2" stroke="#5a34b0" stroke-width="0.6"/>
<circle cx="375.2" cy="839.6" r="2.4" fill="#8455e2" stroke="#5a34b0" stroke-width="0.6"/>
<circle cx="404.4" cy="895.0" r="2.4" fill="#55b885" stroke="#2f8a5a" stroke-width="0.6"/>
<circle cx="536.1" cy="894.9" r="2.4" fill="#55b885" stroke="#2f8a5a" stroke-width="0.6"/>
<circle cx="555.5" cy="892.9" r="2.4" fill="#55b885" stroke="#2f8a5a" stroke-width="0.6"/>
<rect x="486.7" y="758.4" width="76.8" height="12.8" fill="#d2d2d2" stroke="#3a3a3a" stroke-width="0.9"/>
<text x="489.1" y="767.9" font-size="8.95" fill="#111" textLength="72.1" lengthAdjust="spacingAndGlyphs">GCKR-rs8179206</text>
<rect x="505.5" y="791.6" width="83.8" height="12.6" fill="#d2d2d2" stroke="#3a3a3a" stroke-width="0.9"/>
<text x="508.1" y="801.0" font-size="8.95" fill="#111" textLength="78.6" lengthAdjust="spacingAndGlyphs">ACLY-rs147387411</text>
<rect x="502.8" y="814.5" width="81.8" height="12.7" fill="#d2d2d2" stroke="#3a3a3a" stroke-width="0.9"/>
<text x="505.2" y="824.0" font-size="8.95" fill="#111" textLength="77.1" lengthAdjust="spacingAndGlyphs">CD40-rs11569321</text>
<rect x="458.8" y="829.4" width="86.4" height="12.8" fill="#d2d2d2" stroke="#3a3a3a" stroke-width="0.9"/>
<text x="461.3" y="838.9" font-size="8.95" fill="#111" textLength="81.3" lengthAdjust="spacingAndGlyphs">AEBP1-rs61737461</text>
<rect x="263.0" y="804.7" width="78.1" height="13.6" fill="#d2d2d2" stroke="#3a3a3a" stroke-width="0.9"/>
<text x="266.2" y="814.6" font-size="8.95" fill="#111" textLength="71.7" lengthAdjust="spacingAndGlyphs">CD40-rs7273698</text>
<rect x="471.2" y="867.7" width="91.2" height="12.9" fill="#d2d2d2" stroke="#3a3a3a" stroke-width="0.9"/>
<text x="473.2" y="877.3" font-size="8.95" fill="#111" textLength="87.2" lengthAdjust="spacingAndGlyphs">PRKAB1-rs80330613</text>
<rect x="390.2" y="878.7" width="81.4" height="11.5" fill="#d2d2d2" stroke="#3a3a3a" stroke-width="0.9"/>
<text x="392.2" y="887.6" font-size="8.95" fill="#111" textLength="77.5" lengthAdjust="spacingAndGlyphs">GPD2-rs35096779</text>
<rect x="440.4" y="904.1" width="87.3" height="12.1" fill="#d2d2d2" stroke="#3a3a3a" stroke-width="0.9"/>
<text x="442.6" y="913.3" font-size="8.95" fill="#111" textLength="83.0" lengthAdjust="spacingAndGlyphs">SIRT1-rs182199697</text>
<rect x="81.7" y="658.3" width="538.3" height="261.7" fill="none" stroke="#3c3c3c" stroke-width="0.9"/>
<line x1="78.7" y1="896.5" x2="81.7" y2="896.5" stroke="#333" stroke-width="0.80"/>
<text x="71.8" y="899.6" font-size="8.80" fill="#1a1a1a" textLength="5.4" lengthAdjust="spacingAndGlyphs">0</text>
<line x1="78.7" y1="866.8" x2="81.7" y2="866.8" stroke="#333" stroke-width="0.80"/>
<text x="71.8" y="869.9" font-size="8.80" fill="#1a1a1a" textLength="5.4" lengthAdjust="spacingAndGlyphs">5</text>
<line x1="78.7" y1="837.0" x2="81.7" y2="837.0" stroke="#333" stroke-width="0.80"/>
<text x="66.4" y="840.1" font-size="8.80" fill="#1a1a1a" textLength="10.8" lengthAdjust="spacingAndGlyphs">10</text>
<line x1="78.7" y1="807.2" x2="81.7" y2="807.2" stroke="#333" stroke-width="0.80"/>
<text x="66.4" y="810.4" font-size="8.80" fill="#1a1a1a" textLength="10.8" lengthAdjust="spacingAndGlyphs">15</text>
<line x1="78.7" y1="777.5" x2="81.7" y2="777.5" stroke="#333" stroke-width="0.80"/>
<text x="66.4" y="780.6" font-size="8.80" fill="#1a1a1a" textLength="10.8" lengthAdjust="spacingAndGlyphs">20</text>
<line x1="78.7" y1="747.8" x2="81.7" y2="747.8" stroke="#333" stroke-width="0.80"/>
<text x="66.4" y="750.9" font-size="8.80" fill="#1a1a1a" textLength="10.8" lengthAdjust="spacingAndGlyphs">25</text>
<line x1="78.7" y1="718.0" x2="81.7" y2="718.0" stroke="#333" stroke-width="0.80"/>
<text x="66.4" y="721.1" font-size="8.80" fill="#1a1a1a" textLength="10.8" lengthAdjust="spacingAndGlyphs">30</text>
<line x1="78.7" y1="688.2" x2="81.7" y2="688.2" stroke="#333" stroke-width="0.80"/>
<text x="66.4" y="691.4" font-size="8.80" fill="#1a1a1a" textLength="10.8" lengthAdjust="spacingAndGlyphs">35</text>
<line x1="78.7" y1="658.5" x2="81.7" y2="658.5" stroke="#333" stroke-width="0.80"/>
<text x="66.4" y="661.6" font-size="8.80" fill="#1a1a1a" textLength="10.8" lengthAdjust="spacingAndGlyphs">40</text>
<line x1="98.4" y1="920.0" x2="98.4" y2="923.0" stroke="#333" stroke-width="0.80"/>
<text x="88.1" y="931.6" font-size="8.80" fill="#1a1a1a" textLength="20.5" lengthAdjust="spacingAndGlyphs">−0.2</text>
<line x1="210.2" y1="920.0" x2="210.2" y2="923.0" stroke="#333" stroke-width="0.80"/>
<text x="203.5" y="931.6" font-size="8.80" fill="#1a1a1a" textLength="13.4" lengthAdjust="spacingAndGlyphs">0.0</text>
<line x1="322.0" y1="920.0" x2="322.0" y2="923.0" stroke="#333" stroke-width="0.80"/>
<text x="315.3" y="931.6" font-size="8.80" fill="#1a1a1a" textLength="13.4" lengthAdjust="spacingAndGlyphs">0.2</text>
<line x1="433.9" y1="920.0" x2="433.9" y2="923.0" stroke="#333" stroke-width="0.80"/>
<text x="427.2" y="931.6" font-size="8.80" fill="#1a1a1a" textLength="13.4" lengthAdjust="spacingAndGlyphs">0.4</text>
<line x1="545.7" y1="920.0" x2="545.7" y2="923.0" stroke="#333" stroke-width="0.80"/>
<text x="539.0" y="931.6" font-size="8.80" fill="#1a1a1a" textLength="13.4" lengthAdjust="spacingAndGlyphs">0.6</text>
<text x="272.1" y="941.9" font-size="8.95" fill="#1a1a1a" textLength="157.8" lengthAdjust="spacingAndGlyphs">Likelihood to be the Metformin Target</text>
<text transform="translate(61.6,788.3) rotate(-90)" x="-70.2" y="0" font-size="8.95" fill="#1a1a1a" textLength="140.4" lengthAdjust="spacingAndGlyphs">-log10p-value (non-synonymous)</text>
<rect x="86.4" y="662.5" width="207.8" height="95.9" rx="2" fill="#fff" fill-opacity="0.8" stroke="#cfcfcf" stroke-width="0.8"/>
<line x1="89" y1="669.6" x2="106" y2="669.6" stroke="#8a8a8a" stroke-width="1" stroke-dasharray="3.7 1.6"/>
<rect x="95.4" y="667.5" width="4.2" height="4.2" fill="#8a8a8a"/>
<line x1="89" y1="681.5" x2="106" y2="681.5" stroke="#d8435e" stroke-width="1" stroke-dasharray="3.7 1.6"/>
<rect x="95.4" y="679.4" width="4.2" height="4.2" fill="#d0405a"/>
<circle cx="97.5" cy="694.0" r="1.3" fill="#8088ee"/>
<circle cx="97.5" cy="718.0" r="1.3" fill="#ec8a72"/>
<circle cx="97.5" cy="738.8" r="2.8" fill="#4fb07e"/>
<circle cx="97.5" cy="750.5" r="2.8" fill="#7c4fdc"/>
<text x="113.6" y="672.7" font-size="8.95" fill="#1a1a1a" textLength="123.5" lengthAdjust="spacingAndGlyphs">CI99% -log10pValue Mov-Avg</text>
<text x="113.6" y="684.6" font-size="8.95" fill="#1a1a1a" textLength="178.2" lengthAdjust="spacingAndGlyphs">CI50% -log10pValue Druggability Mov-Avg</text>
<text x="113.6" y="697.0" font-size="8.95" fill="#1a1a1a" textLength="154.5" lengthAdjust="spacingAndGlyphs">all non-synonymous curated isoform</text>
<text x="113.6" y="710.4" font-size="8.95" fill="#1a1a1a" textLength="76.5" lengthAdjust="spacingAndGlyphs">top (pVal&lt;1e-6) &amp;</text>
<text x="113.6" y="719.5" font-size="8.95" fill="#1a1a1a" textLength="127.5" lengthAdjust="spacingAndGlyphs">consistent effect (+1 study) &amp;</text>
<text x="113.6" y="728.8" font-size="8.95" fill="#1a1a1a" textLength="141.9" lengthAdjust="spacingAndGlyphs">non-synonymous curated isoform</text>
<text x="113.6" y="741.9" font-size="8.95" fill="#1a1a1a" textLength="41.9" lengthAdjust="spacingAndGlyphs">DrugBank</text>
<text x="113.6" y="753.6" font-size="8.95" fill="#1a1a1a" textLength="26.9" lengthAdjust="spacingAndGlyphs">Pareto</text>
</svg>
</body></html>
